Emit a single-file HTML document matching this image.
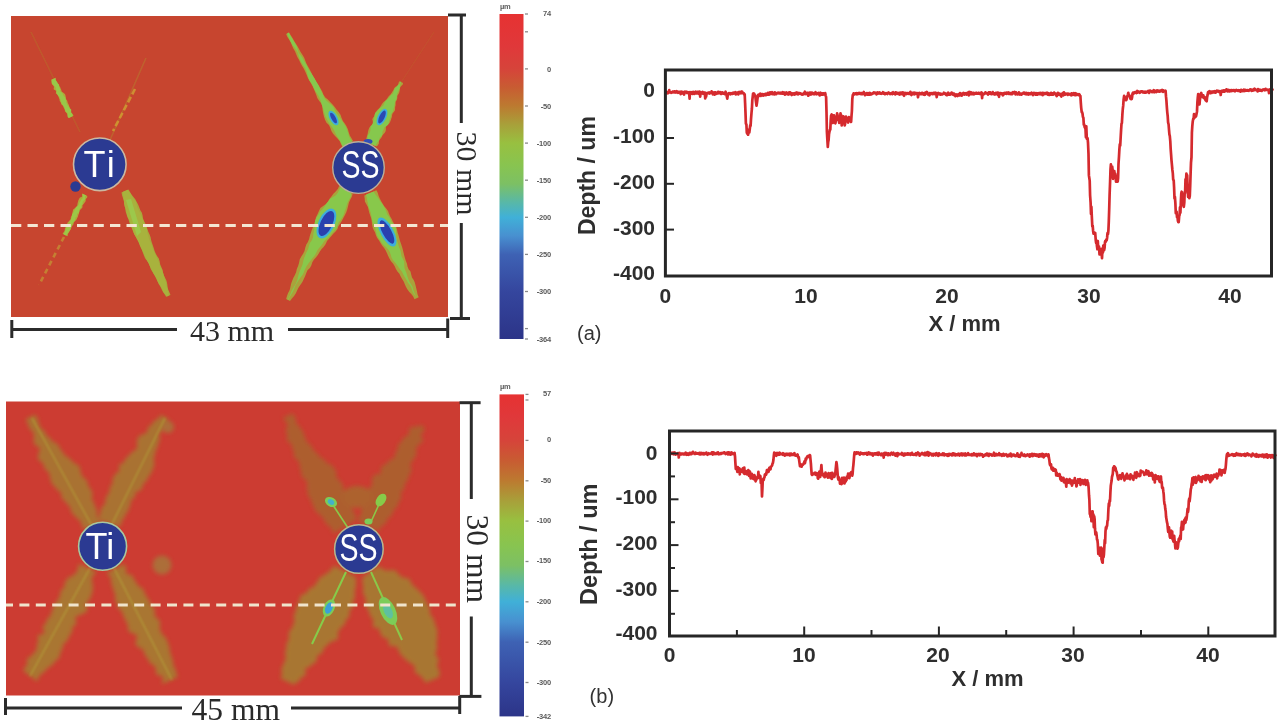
<!DOCTYPE html>
<html><head><meta charset="utf-8"><title>Profile figure</title>
<style>
html,body{margin:0;padding:0;background:#fff;width:1280px;height:728px;overflow:hidden}
svg{display:block;filter:blur(0.5px)}
.ax{font-family:"Liberation Sans",Arial,sans-serif;font-weight:bold;fill:#2e2e2e}
.cb{font-family:"Liberation Sans",Arial,sans-serif;fill:#5a5a5a;font-size:7.5px;font-weight:bold;letter-spacing:-0.2px}
.sr{font-family:"Liberation Serif","Times New Roman",serif;fill:#2a2a2a;font-size:30px}
.lab{font-family:"Liberation Sans",Arial,sans-serif;fill:#333;font-size:20px}
</style></head>
<body>
<svg width="1280" height="728" viewBox="0 0 1280 728">
<defs>
  <linearGradient id="cbA" x1="0" y1="0" x2="0" y2="1">
    <stop offset="0.000" stop-color="#e63232"/>
    <stop offset="0.100" stop-color="#e0383a"/>
    <stop offset="0.169" stop-color="#d6443a"/>
    <stop offset="0.226" stop-color="#c85c32"/>
    <stop offset="0.283" stop-color="#bc7a30"/>
    <stop offset="0.340" stop-color="#a8a03a"/>
    <stop offset="0.397" stop-color="#98c040"/>
    <stop offset="0.466" stop-color="#88c450"/>
    <stop offset="0.523" stop-color="#7cc064"/>
    <stop offset="0.580" stop-color="#58b8a8"/>
    <stop offset="0.626" stop-color="#40b0d8"/>
    <stop offset="0.683" stop-color="#4890d0"/>
    <stop offset="0.740" stop-color="#3e62b4"/>
    <stop offset="0.854" stop-color="#35469e"/>
    <stop offset="1.000" stop-color="#2c3488"/>
  </linearGradient>
  <linearGradient id="cbB" x1="0" y1="0" x2="0" y2="1">
    <stop offset="0.000" stop-color="#e63232"/>
    <stop offset="0.068" stop-color="#e0383a"/>
    <stop offset="0.143" stop-color="#d6443a"/>
    <stop offset="0.206" stop-color="#c85c32"/>
    <stop offset="0.268" stop-color="#bc7a30"/>
    <stop offset="0.331" stop-color="#a8a03a"/>
    <stop offset="0.393" stop-color="#98c040"/>
    <stop offset="0.469" stop-color="#88c450"/>
    <stop offset="0.531" stop-color="#7cc064"/>
    <stop offset="0.594" stop-color="#58b8a8"/>
    <stop offset="0.644" stop-color="#40b0d8"/>
    <stop offset="0.707" stop-color="#4890d0"/>
    <stop offset="0.769" stop-color="#3e62b4"/>
    <stop offset="0.895" stop-color="#35469e"/>
    <stop offset="1.000" stop-color="#2c3488"/>
  </linearGradient>
  <filter id="bl1" x="-20%" y="-20%" width="140%" height="140%"><feGaussianBlur stdDeviation="1"/></filter>
  <filter id="bl2" x="-20%" y="-20%" width="140%" height="140%"><feGaussianBlur stdDeviation="2"/></filter>
  <filter id="bl4" x="-30%" y="-30%" width="160%" height="160%"><feGaussianBlur stdDeviation="4"/></filter>
  <filter id="soft"><feGaussianBlur stdDeviation="0.6"/></filter>
</defs>

<!-- ============ MAP A ============ -->
<rect x="11" y="16" width="437" height="301" fill="#c7452f"/>
<g id="mapA-features" filter="url(#soft)">
<line x1="31" y1="32" x2="80" y2="132" stroke="#b8682c" stroke-width="1.6" opacity="0.55"/>
<path d="M51.3,79.8 L51.8,80.7 L51.8,81.9 L51.7,83.2 L51.9,84.3 L52.7,85.1 L53.6,85.9 L54.0,86.9 L53.7,88.2 L53.8,89.4 L54.8,90.1 L56.0,90.7 L56.1,91.8 L55.8,93.2 L56.7,94.0 L57.7,94.6 L58.1,95.7 L58.5,96.7 L58.9,97.7 L59.3,98.7 L59.6,99.8 L59.7,100.9 L60.3,101.8 L60.9,102.7 L61.1,103.8 L61.7,104.7 L62.7,105.4 L63.3,106.3 L63.6,107.4 L64.1,108.3 L64.6,109.3 L64.9,110.4 L65.2,111.4 L65.9,112.3 L66.6,113.1 L67.1,114.1 L67.8,115.0 L68.2,115.9 L68.4,117.0 L68.9,118.0 L73.5,115.8 L73.1,114.8 L72.1,114.1 L71.3,113.3 L71.2,112.1 L71.2,110.9 L70.7,110.0 L70.3,109.0 L70.1,107.9 L69.5,107.0 L69.1,106.0 L68.8,104.9 L68.4,103.9 L67.8,103.0 L67.5,102.0 L67.3,100.9 L66.6,100.0 L66.0,99.1 L65.9,97.9 L65.7,96.8 L65.5,95.7 L65.3,94.7 L64.6,93.8 L63.7,93.0 L62.6,92.3 L61.7,91.6 L61.4,90.5 L61.1,89.5 L60.6,88.5 L60.3,87.5 L59.8,86.5 L58.7,85.8 L58.0,85.0 L57.9,83.8 L57.6,82.8 L56.9,81.9 L56.3,81.0 L55.7,80.1 L55.9,78.8 L55.8,77.7 Z" fill="#b0a83a"/>
<path d="M51.5,79.7 L51.5,80.9 L51.6,82.1 L51.8,83.1 L52.4,84.1 L53.3,84.8 L53.9,85.7 L54.7,86.5 L55.5,87.3 L55.7,88.4 L55.9,89.5 L56.5,90.5 L56.6,91.6 L56.5,92.9 L56.9,93.9 L57.4,94.8 L58.1,95.7 L59.0,96.4 L59.6,97.3 L59.8,98.5 L60.3,99.4 L60.7,100.4 L60.9,101.5 L61.4,102.5 L61.9,103.4 L62.3,104.4 L62.9,105.3 L63.5,106.2 L64.1,107.1 L64.6,108.1 L64.8,109.2 L65.2,110.2 L65.5,111.3 L66.1,112.2 L67.3,112.8 L67.7,113.8 L67.4,115.1 L67.5,116.2 L67.9,117.3 L68.7,118.1 L72.5,116.3 L72.5,115.1 L72.5,113.9 L71.7,113.1 L70.8,112.3 L71.1,111.0 L71.3,109.7 L70.4,108.9 L69.5,108.2 L69.0,107.2 L68.6,106.2 L67.8,105.4 L67.1,104.5 L66.8,103.5 L66.3,102.5 L66.1,101.4 L66.3,100.2 L65.6,99.3 L65.3,98.2 L65.1,97.1 L64.2,96.4 L63.5,95.5 L63.0,94.6 L62.5,93.6 L62.0,92.6 L60.9,91.9 L60.1,91.2 L60.1,89.9 L60.2,88.7 L59.6,87.8 L59.1,86.8 L59.2,85.6 L59.0,84.5 L58.1,83.7 L57.4,82.9 L57.0,81.9 L56.3,81.0 L55.7,80.1 L55.3,79.1 L54.8,78.2 Z" fill="#98c848"/>
<line x1="400" y1="84" x2="434" y2="32" stroke="#b8782e" stroke-width="1.2" opacity="0.2"/>
<line x1="146" y1="58" x2="110" y2="140" stroke="#b8782e" stroke-width="1.6" opacity="0.55"/>
<line x1="135" y1="89" x2="113" y2="131" stroke="#d0a032" stroke-width="2.6" stroke-dasharray="6 3" opacity="0.8"/>
<path d="M82.1,193.5 L81.9,194.7 L82.3,196.2 L81.5,197.1 L80.0,197.6 L79.3,198.6 L78.8,199.6 L78.3,200.6 L78.0,201.8 L77.7,202.9 L77.4,204.0 L77.4,205.3 L76.8,206.3 L75.9,207.1 L75.2,208.0 L74.1,208.8 L73.2,209.6 L72.8,210.7 L72.6,211.9 L72.3,213.0 L72.3,214.3 L72.0,215.4 L71.2,216.3 L70.8,217.4 L70.9,218.7 L70.5,219.8 L69.5,220.6 L68.7,221.5 L67.8,222.3 L67.3,223.3 L67.0,224.4 L66.4,225.4 L65.9,226.5 L65.4,227.5 L64.9,228.6 L64.8,229.8 L64.5,230.9 L63.9,231.9 L63.2,232.8 L62.6,233.8 L67.6,236.3 L67.8,235.1 L67.9,233.9 L68.5,232.9 L69.2,232.0 L69.7,230.9 L70.2,229.9 L70.8,228.9 L71.2,227.9 L71.6,226.7 L72.2,225.8 L73.2,225.0 L73.5,223.9 L73.7,222.7 L74.4,221.8 L75.2,220.9 L76.2,220.1 L76.8,219.1 L77.2,218.0 L77.8,217.1 L78.1,215.9 L78.4,214.8 L79.0,213.8 L79.1,212.6 L79.0,211.2 L79.6,210.2 L80.6,209.4 L81.5,208.6 L82.3,207.8 L82.5,206.6 L82.5,205.3 L83.2,204.4 L84.0,203.5 L84.7,202.5 L85.5,201.6 L85.7,200.5 L85.7,199.2 L86.5,198.3 L87.2,197.4 L87.3,196.1 Z" fill="#b0a83a"/>
<path d="M83.0,194.0 L82.7,195.1 L82.7,196.4 L82.7,197.7 L82.2,198.7 L81.2,199.5 L80.7,200.5 L80.2,201.6 L79.4,202.5 L79.1,203.6 L78.7,204.7 L78.0,205.6 L77.2,206.5 L76.1,207.2 L75.5,208.2 L75.2,209.3 L74.5,210.2 L74.0,211.3 L73.5,212.3 L72.9,213.3 L72.1,214.2 L71.8,215.3 L72.0,216.7 L71.6,217.8 L70.8,218.7 L70.7,219.9 L70.3,221.0 L69.4,221.8 L69.6,223.2 L69.7,224.5 L68.6,225.2 L67.1,225.8 L66.2,226.6 L66.2,227.9 L66.0,229.1 L65.5,230.1 L65.0,231.1 L64.7,232.3 L64.2,233.3 L63.5,234.2 L66.3,235.7 L66.9,234.7 L67.4,233.6 L68.1,232.7 L68.8,231.8 L69.4,230.8 L70.3,229.9 L70.6,228.8 L70.9,227.7 L71.4,226.7 L72.0,225.7 L72.2,224.5 L72.5,223.4 L73.3,222.5 L74.1,221.6 L74.8,220.6 L75.2,219.6 L75.3,218.3 L75.7,217.3 L76.7,216.5 L77.0,215.4 L77.0,214.1 L77.8,213.2 L79.0,212.5 L79.5,211.5 L79.5,210.2 L79.7,209.0 L80.4,208.1 L81.3,207.3 L81.4,206.0 L81.8,204.9 L82.5,204.0 L82.7,202.8 L82.8,201.6 L83.7,200.8 L84.7,200.0 L85.2,199.0 L85.1,197.6 L85.3,196.4 L86.3,195.6 Z" fill="#9cc846"/>
<line x1="64" y1="237" x2="39" y2="285" stroke="#c48e32" stroke-width="2.6" stroke-dasharray="5 4" opacity="0.8"/>
<path d="M121.5,192.5 L122.1,195.4 L123.0,198.2 L123.8,201.0 L124.5,203.9 L125.0,206.7 L125.3,209.4 L125.8,212.3 L127.2,214.9 L128.2,217.6 L128.8,220.5 L129.6,223.3 L130.8,226.0 L132.1,228.8 L133.1,231.6 L134.2,234.3 L135.8,236.8 L137.2,239.4 L138.7,241.9 L140.0,244.6 L141.0,247.3 L141.9,250.1 L143.0,252.9 L144.0,255.8 L145.2,258.4 L147.0,260.8 L148.8,263.2 L149.8,265.9 L150.6,268.8 L152.0,271.3 L153.6,273.7 L155.0,276.2 L156.4,278.7 L157.6,281.4 L158.7,284.1 L160.3,286.6 L161.6,289.2 L162.9,291.8 L164.6,294.3 L166.1,296.8 L170.5,294.9 L169.4,292.3 L168.2,289.6 L167.6,286.7 L167.2,283.7 L166.5,280.8 L165.3,278.2 L163.9,275.6 L163.0,272.9 L162.5,269.8 L161.3,267.1 L160.2,264.4 L159.7,261.4 L158.8,258.6 L157.2,256.2 L155.7,253.6 L154.6,251.0 L153.8,248.2 L152.9,245.6 L152.0,242.9 L151.1,240.1 L150.6,237.2 L149.6,234.4 L148.3,231.8 L147.4,229.1 L146.3,226.3 L145.4,223.7 L144.2,221.2 L143.0,218.6 L142.6,215.6 L141.9,212.8 L140.3,210.3 L139.3,207.6 L138.2,204.8 L136.7,202.0 L135.3,199.2 L133.5,196.9 L131.4,194.6 L130.0,192.0 L128.5,189.5 Z" fill="#a9a63a"/>
<path d="M122.6,192.0 L123.2,194.9 L123.6,197.9 L124.0,200.9 L124.1,204.1 L124.7,206.8 L125.9,209.2 L126.5,212.0 L126.7,215.0 L127.7,217.8 L129.3,220.3 L130.2,223.1 L131.1,225.9 L132.3,228.7 L133.3,231.5 L134.4,234.2 L135.7,236.8 L137.3,239.4 L138.5,242.0 L139.5,244.7 L140.7,247.4 L142.1,250.0 L143.5,252.7 L144.7,255.5 L145.9,258.1 L147.2,260.7 L148.5,263.3 L149.8,265.9 L151.2,268.5 L152.4,271.1 L153.7,273.7 L155.2,276.1 L156.5,278.7 L157.7,281.4 L159.1,284.0 L160.8,286.4 L162.2,289.0 L163.1,291.7 L164.9,294.1 L166.9,296.5 L168.9,295.6 L168.3,292.7 L167.7,289.8 L166.8,287.0 L166.2,284.1 L165.6,281.3 L164.7,278.5 L163.9,275.6 L163.1,272.8 L162.1,270.0 L160.6,267.4 L159.6,264.7 L158.8,261.8 L157.5,259.2 L156.3,256.6 L155.1,253.9 L153.8,251.3 L152.8,248.7 L152.0,246.0 L151.0,243.3 L149.7,240.7 L148.8,237.9 L148.0,235.0 L147.2,232.2 L147.0,229.2 L146.3,226.3 L144.7,223.9 L143.7,221.4 L142.7,218.7 L141.4,216.1 L140.3,213.4 L139.0,210.7 L137.6,208.1 L136.8,205.3 L136.2,202.2 L134.4,199.6 L132.7,197.2 L131.3,194.6 L129.5,192.2 L127.7,189.8 Z" fill="#a8b23e"/>
<path d="M126,200 L131,199 L141,232 L137,236 Z" fill="#9cc84c"/>
<path d="M286.1,34.0 L287.4,37.0 L289.2,39.7 L290.9,42.4 L292.0,45.5 L293.3,48.5 L295.0,51.2 L296.2,54.2 L297.5,57.2 L299.1,60.0 L300.5,62.9 L302.0,65.8 L303.7,68.6 L305.2,71.4 L306.5,74.4 L307.7,77.5 L309.2,80.4 L310.9,83.1 L312.5,86.0 L313.8,88.9 L315.1,91.9 L316.3,94.9 L317.3,98.1 L319.1,100.8 L321.3,103.4 L322.3,106.5 L322.6,110.0 L323.2,113.4 L324.0,116.7 L325.0,119.8 L326.5,122.7 L328.9,125.1 L330.4,127.9 L331.4,131.1 L333.1,133.8 L335.3,136.3 L337.7,138.7 L339.8,141.2 L341.1,144.2 L342.6,147.1 L353.1,141.1 L351.5,138.3 L349.8,135.5 L348.8,132.4 L347.9,129.2 L346.5,126.2 L344.8,123.5 L342.9,120.9 L341.6,117.9 L340.5,114.8 L338.6,112.1 L336.5,109.6 L334.7,106.9 L332.6,104.4 L330.2,102.0 L327.9,99.6 L325.3,97.4 L323.5,94.7 L322.3,91.7 L320.7,88.8 L318.7,86.2 L316.9,83.6 L315.7,80.6 L314.2,77.7 L312.4,75.0 L311.0,72.1 L309.6,69.2 L308.0,66.4 L306.4,63.6 L305.2,60.6 L304.1,57.5 L302.4,54.7 L300.6,52.0 L299.0,49.1 L297.5,46.3 L295.7,43.5 L294.0,40.8 L292.5,38.0 L290.7,35.2 L289.1,32.4 Z" fill="#aaa23a"/>
<path d="M287.2,33.4 L288.3,36.5 L289.6,39.4 L291.0,42.4 L292.6,45.2 L294.8,47.7 L296.6,50.4 L298.0,53.3 L298.9,56.5 L299.9,59.6 L301.4,62.5 L303.2,65.2 L305.1,67.9 L306.4,70.8 L307.3,74.0 L308.2,77.2 L309.4,80.3 L311.2,83.0 L312.8,85.8 L314.2,88.7 L315.7,91.6 L317.5,94.3 L319.1,97.1 L320.4,100.1 L321.4,103.2 L322.4,106.4 L323.4,109.6 L324.2,112.8 L325.1,116.0 L326.7,118.9 L328.2,121.7 L329.9,124.5 L332.0,127.0 L333.7,129.8 L335.1,132.7 L336.6,135.6 L338.4,138.3 L340.2,141.0 L341.6,143.9 L343.0,146.9 L352.2,141.6 L350.4,138.9 L349.0,136.0 L348.1,132.8 L347.0,129.7 L345.8,126.7 L344.1,123.9 L342.3,121.2 L340.5,118.5 L338.7,115.8 L336.7,113.2 L335.1,110.4 L333.7,107.5 L331.6,105.0 L328.8,102.8 L326.3,100.5 L324.4,97.9 L323.1,94.9 L321.6,92.1 L320.2,89.1 L319.1,86.0 L317.4,83.3 L315.6,80.6 L314.0,77.8 L312.4,75.0 L310.6,72.3 L308.7,69.7 L307.4,66.7 L305.8,63.9 L304.1,61.1 L302.7,58.2 L300.8,55.6 L298.8,52.9 L297.7,49.8 L296.8,46.7 L295.3,43.8 L293.6,41.0 L292.0,38.2 L290.3,35.5 L288.7,32.6 Z" fill="#86c84e"/>
<path d="M399.4,81.2 L398.6,82.8 L398.1,84.5 L397.2,86.0 L395.2,87.0 L394.0,88.4 L393.5,90.1 L392.5,91.6 L391.6,93.0 L390.5,94.4 L389.2,95.7 L388.1,97.1 L387.2,98.6 L386.0,99.9 L384.5,101.2 L383.1,102.6 L382.0,104.1 L381.1,105.6 L380.2,107.1 L379.0,108.5 L377.6,109.8 L376.4,111.2 L375.3,112.7 L374.7,114.5 L374.3,116.3 L373.0,117.7 L372.3,119.3 L372.8,121.5 L372.8,123.4 L371.7,124.9 L370.3,126.2 L369.3,127.8 L368.6,129.5 L368.1,131.2 L367.8,133.0 L367.4,134.8 L366.9,136.5 L366.4,138.2 L366.3,140.0 L365.8,141.8 L376.8,146.5 L378.0,145.1 L378.9,143.5 L378.9,141.6 L379.4,139.9 L380.7,138.6 L381.8,137.1 L382.4,135.4 L383.6,134.1 L384.8,132.8 L385.6,131.3 L385.9,129.5 L385.8,127.5 L386.4,125.8 L387.9,124.6 L389.4,123.3 L390.2,121.8 L390.8,120.2 L391.3,118.6 L391.9,116.9 L392.1,115.1 L392.6,113.4 L393.8,112.0 L394.9,110.5 L395.1,108.8 L395.1,106.9 L395.6,105.2 L395.6,103.2 L395.8,101.3 L396.9,99.9 L397.3,98.1 L397.3,96.0 L398.2,94.5 L399.1,92.9 L399.6,91.2 L399.9,89.3 L400.1,87.5 L401.2,86.1 L402.6,84.8 L403.1,83.0 Z" fill="#aaa23a"/>
<path d="M400.2,81.6 L400.0,83.5 L398.6,84.8 L397.1,86.0 L396.0,87.4 L394.9,88.8 L394.0,90.3 L393.5,92.1 L392.8,93.7 L391.3,94.8 L390.1,96.2 L389.2,97.7 L387.9,99.0 L386.3,100.2 L385.1,101.6 L384.3,103.2 L383.6,104.9 L382.4,106.3 L380.7,107.4 L379.4,108.7 L378.2,110.1 L376.9,111.4 L375.5,112.8 L374.8,114.6 L374.4,116.4 L374.1,118.2 L373.7,120.0 L373.2,121.7 L372.8,123.4 L371.9,125.0 L370.8,126.5 L370.5,128.4 L370.4,130.3 L370.0,132.1 L369.2,133.6 L368.1,135.1 L367.5,136.7 L367.6,138.7 L367.3,140.5 L366.4,142.0 L375.5,145.9 L376.2,144.3 L377.2,142.8 L378.3,141.4 L379.2,139.8 L379.7,138.1 L380.8,136.7 L382.1,135.3 L382.4,133.5 L382.5,131.8 L383.3,130.2 L383.9,128.6 L384.7,127.0 L386.6,125.9 L388.1,124.7 L388.7,123.0 L389.0,121.2 L389.7,119.7 L390.3,118.1 L390.7,116.3 L391.0,114.5 L391.9,113.0 L392.9,111.5 L393.4,109.8 L393.8,108.1 L394.3,106.5 L394.6,104.7 L394.9,102.8 L395.3,101.0 L396.0,99.4 L396.7,97.7 L396.9,95.8 L397.1,93.9 L397.9,92.3 L398.7,90.7 L399.4,89.1 L399.9,87.4 L400.2,85.5 L400.4,83.7 L401.1,82.0 Z" fill="#86c84e"/>
<path d="M339.2,186.1 L337.8,189.0 L335.7,191.5 L333.4,193.8 L331.4,196.4 L329.6,198.8 L328.0,201.4 L325.9,203.9 L323.1,205.9 L320.4,208.0 L318.9,210.9 L317.6,214.0 L316.0,217.3 L315.1,220.8 L314.3,224.0 L313.0,226.9 L311.8,229.9 L310.8,233.0 L309.8,236.0 L309.1,239.1 L307.9,241.9 L306.3,244.6 L305.3,247.6 L304.5,250.9 L303.1,253.8 L301.3,256.4 L299.7,259.5 L299.0,263.0 L298.1,266.1 L296.8,269.0 L296.1,272.2 L294.9,275.1 L293.3,277.9 L292.2,280.8 L291.1,283.7 L290.4,286.9 L289.7,290.1 L288.1,292.9 L287.0,295.9 L286.1,299.0 L290.0,301.0 L291.9,298.4 L294.1,295.9 L295.9,293.3 L297.2,290.3 L298.6,287.5 L300.5,284.8 L302.4,282.0 L303.8,279.1 L305.1,276.2 L306.2,273.2 L307.5,270.3 L309.9,267.9 L311.4,265.3 L312.2,262.4 L313.8,259.7 L316.1,257.3 L318.0,254.7 L319.6,251.9 L321.4,249.2 L323.8,246.7 L325.7,244.0 L327.0,241.1 L329.2,238.6 L331.4,236.1 L333.5,233.6 L335.8,231.2 L337.5,228.9 L338.4,226.3 L340.0,223.7 L341.8,221.1 L343.2,218.2 L344.7,215.4 L346.2,212.6 L347.3,209.3 L348.1,205.9 L348.9,202.7 L350.2,199.7 L351.7,196.9 L352.7,193.8 Z" fill="#aaa23a"/>
<path d="M340.7,187.0 L339.2,189.8 L337.8,192.7 L335.8,195.2 L332.8,197.2 L330.0,199.1 L328.2,201.6 L326.2,204.1 L324.4,206.7 L322.4,209.2 L320.2,211.6 L318.6,214.6 L316.6,217.6 L315.1,220.8 L314.8,224.3 L314.6,227.7 L313.8,230.9 L313.3,234.2 L313.0,237.6 L311.7,240.5 L309.9,243.0 L308.9,246.0 L308.0,249.2 L306.6,252.1 L305.3,255.0 L304.1,258.0 L303.2,261.2 L302.5,264.5 L301.3,267.5 L300.0,270.4 L298.9,273.4 L298.1,276.6 L297.4,279.7 L296.3,282.7 L294.8,285.5 L293.1,288.3 L291.6,291.1 L290.4,294.1 L289.2,297.0 L287.5,299.7 L288.1,300.0 L289.7,297.3 L291.2,294.4 L292.9,291.7 L294.2,288.8 L295.3,285.8 L296.9,283.0 L298.6,280.3 L300.5,277.6 L302.5,275.0 L303.9,272.2 L305.0,269.2 L306.5,266.3 L308.2,263.7 L310.1,261.3 L312.0,258.7 L314.2,256.2 L316.0,253.6 L317.3,250.6 L319.1,248.0 L321.4,245.5 L323.2,242.7 L325.2,240.1 L327.9,237.9 L330.1,235.5 L332.1,232.9 L334.4,230.5 L336.4,228.2 L337.3,225.7 L338.5,222.8 L340.4,220.2 L342.2,217.6 L343.6,214.7 L344.6,211.6 L345.7,208.4 L346.8,205.1 L347.8,202.1 L349.4,199.3 L350.7,196.4 L351.3,193.1 Z" fill="#88c84c"/>
<path d="M364.3,195.4 L364.7,198.4 L364.9,201.5 L366.2,204.1 L367.8,206.7 L368.5,209.6 L369.2,212.5 L370.2,215.4 L371.2,218.2 L371.7,221.1 L372.0,224.2 L372.6,227.2 L373.7,229.9 L375.1,232.6 L376.0,235.4 L377.2,238.0 L379.1,240.4 L380.5,243.0 L382.1,245.5 L384.1,247.9 L385.7,250.4 L387.0,253.2 L388.2,255.9 L389.4,258.6 L391.0,261.2 L393.0,263.5 L394.6,266.0 L395.8,268.8 L397.4,271.4 L399.4,273.8 L400.7,276.4 L402.1,279.1 L403.7,281.6 L404.8,284.3 L406.0,287.0 L407.5,289.6 L409.3,292.0 L411.5,294.2 L413.2,296.6 L414.5,299.2 L418.7,297.2 L417.6,294.4 L417.0,291.4 L416.3,288.4 L415.6,285.5 L414.8,282.6 L413.7,279.9 L412.0,277.4 L411.2,274.5 L410.5,271.6 L408.6,269.2 L407.5,266.5 L407.0,263.7 L405.9,261.0 L405.0,258.2 L404.2,255.3 L403.5,252.4 L402.8,249.4 L402.0,246.7 L401.1,243.9 L400.1,241.2 L399.3,238.3 L398.6,235.4 L397.6,232.6 L397.0,229.7 L396.2,226.7 L394.4,224.3 L392.9,221.7 L391.7,219.0 L390.2,216.4 L389.0,213.8 L388.0,211.0 L386.2,208.5 L384.3,206.2 L382.7,203.7 L381.2,201.2 L379.8,198.6 L378.6,195.8 L377.8,193.0 L376.4,190.3 Z" fill="#aaa23a"/>
<path d="M366.1,194.6 L366.7,197.5 L367.2,200.6 L367.9,203.4 L368.4,206.4 L369.4,209.2 L370.5,212.0 L371.2,214.9 L371.7,217.9 L372.2,221.0 L373.3,223.7 L374.7,226.3 L375.5,229.1 L376.2,232.1 L376.9,235.0 L378.3,237.5 L379.9,240.1 L381.5,242.6 L383.5,245.0 L385.9,247.1 L388.2,249.4 L389.8,251.9 L390.7,254.8 L391.6,257.7 L393.1,260.2 L395.1,262.5 L397.0,265.0 L398.7,267.5 L400.6,269.9 L402.3,272.3 L403.5,275.1 L405.0,277.6 L406.6,280.1 L408.0,282.7 L409.8,285.1 L411.3,287.6 L412.2,290.5 L413.4,293.2 L415.2,295.6 L417.0,298.0 L417.0,298.0 L415.7,295.4 L414.3,292.8 L413.3,289.9 L412.6,287.0 L411.2,284.4 L409.6,281.9 L408.4,279.2 L407.4,276.4 L406.6,273.5 L405.5,270.8 L404.5,268.0 L404.3,264.9 L404.2,261.8 L403.0,259.1 L401.6,256.4 L401.1,253.4 L400.5,250.5 L399.3,247.8 L398.4,245.1 L397.6,242.2 L396.8,239.4 L396.3,236.4 L396.3,233.1 L396.1,230.0 L395.5,227.1 L393.5,224.6 L391.6,222.3 L390.5,219.5 L389.2,216.9 L387.4,214.4 L386.3,211.7 L385.2,209.0 L383.8,206.4 L382.3,203.9 L380.4,201.5 L378.8,199.0 L377.1,196.5 L375.1,194.1 L373.7,191.5 Z" fill="#88c84c"/>
<ellipse cx="333.5" cy="118" rx="3.8" ry="8" transform="rotate(-29 333.5 118)" fill="#3eaedc"/>
<ellipse cx="333.5" cy="118" rx="2.2" ry="6" transform="rotate(-29 333.5 118)" fill="#2c48b4"/>
<ellipse cx="382" cy="117" rx="4.2" ry="9" transform="rotate(26 382 117)" fill="#3eaedc"/>
<ellipse cx="382" cy="117" rx="2.6" ry="7" transform="rotate(26 382 117)" fill="#2c48b4"/>
<ellipse cx="326.4" cy="223.5" rx="8" ry="16" transform="rotate(25 326.4 223.5)" fill="#3eaedc"/>
<ellipse cx="326.4" cy="223.5" rx="6" ry="13.5" transform="rotate(25 326.4 223.5)" fill="#2a3fae"/>
<ellipse cx="387" cy="232" rx="6.5" ry="16" transform="rotate(-28 387 232)" fill="#3eaedc"/>
<ellipse cx="387" cy="232" rx="4.5" ry="13" transform="rotate(-28 387 232)" fill="#2a3fae"/>
<ellipse cx="368" cy="141.5" rx="4.5" ry="2.5" fill="#3050b8"/>

</g>
<line x1="11" y1="225.6" x2="448" y2="225.6" stroke="#f4e6d2" stroke-width="3" stroke-dasharray="10.3 6.2"/>
<circle cx="75.5" cy="186.5" r="5.2" fill="#2b3a92"/>
<circle cx="99.8" cy="164.3" r="26.3" fill="#2b3a92" stroke="#cbb9a2" stroke-width="1.6"/>
<text x="83.6" y="176.5" font-family="Liberation Sans, Arial, sans-serif" font-size="36" letter-spacing="2.5" fill="#fff">Ti</text>
<circle cx="358.5" cy="167.6" r="25.8" fill="#2b3a92" stroke="#b9b09a" stroke-width="1.4"/>
<text x="360.5" y="178" text-anchor="middle" font-family="Liberation Sans, Arial, sans-serif" font-size="38" fill="#fff" transform="translate(360.5 0) scale(0.75 1) translate(-360.5 0)">SS</text>

<!-- scale bars A -->
<g stroke="#2b2b2b" stroke-width="3" fill="none">
  <line x1="11.8" y1="320" x2="11.8" y2="338"/>
  <line x1="11.8" y1="329.5" x2="177" y2="329.5"/>
  <line x1="288" y1="329.5" x2="447.7" y2="329.5"/>
  <line x1="447.7" y1="318.5" x2="447.7" y2="338"/>
  <line x1="448" y1="15" x2="466" y2="15"/>
  <line x1="461.3" y1="15" x2="461.3" y2="123"/>
  <line x1="461.3" y1="223" x2="461.3" y2="318.5"/>
  <line x1="450" y1="318.5" x2="470" y2="318.5"/>
</g>
<text class="sr" x="190" y="341">43 mm</text>
<text class="sr" transform="translate(456.5 131.5) rotate(90)" x="0" y="0">30 mm</text>

<!-- colorbar A -->
<g stroke="#8a8a8a" stroke-width="1.3"><line x1="525" y1="14.0" x2="528" y2="14.0"/><line x1="525" y1="31.8" x2="528" y2="31.8"/><line x1="525" y1="68.9" x2="528" y2="68.9"/><line x1="525" y1="106.0" x2="528" y2="106.0"/><line x1="525" y1="143.1" x2="528" y2="143.1"/><line x1="525" y1="180.2" x2="528" y2="180.2"/><line x1="525" y1="217.3" x2="528" y2="217.3"/><line x1="525" y1="254.4" x2="528" y2="254.4"/><line x1="525" y1="291.5" x2="528" y2="291.5"/><line x1="525" y1="328.6" x2="528" y2="328.6"/><line x1="525" y1="339.0" x2="528" y2="339.0"/><line x1="525.5" y1="394.4" x2="528.5" y2="394.4"/><line x1="525.5" y1="400.0" x2="528.5" y2="400.0"/><line x1="525.5" y1="440.4" x2="528.5" y2="440.4"/><line x1="525.5" y1="480.8" x2="528.5" y2="480.8"/><line x1="525.5" y1="521.1" x2="528.5" y2="521.1"/><line x1="525.5" y1="561.5" x2="528.5" y2="561.5"/><line x1="525.5" y1="601.8" x2="528.5" y2="601.8"/><line x1="525.5" y1="642.2" x2="528.5" y2="642.2"/><line x1="525.5" y1="682.5" x2="528.5" y2="682.5"/><line x1="525.5" y1="716.4" x2="528.5" y2="716.4"/></g>

<rect x="499.5" y="14" width="24" height="325" fill="url(#cbA)"/>
<text class="cb" x="500" y="9">µm</text>
<g class="cb" text-anchor="end">
  <text x="551" y="16">74</text>
  <text x="551" y="72">0</text>
  <text x="551" y="109">-50</text>
  <text x="551" y="146">-100</text>
  <text x="551" y="183">-150</text>
  <text x="551" y="220">-200</text>
  <text x="551" y="257">-250</text>
  <text x="551" y="294">-300</text>
  <text x="551" y="342">-364</text>
</g>

<!-- ============ CHART A ============ -->
<path d="M665.4,90.8 L665.8,93.5 L666.2,91.8 L666.7,92.4 L667.1,92.3 L667.5,92.2 L667.9,93.3 L668.4,92.2 L668.8,92.6 L669.2,90.1 L669.6,92.0 L670.1,92.3 L670.5,92.3 L670.9,92.5 L671.3,92.8 L671.8,92.4 L672.2,91.9 L672.6,92.3 L673.0,91.6 L673.5,92.3 L673.9,92.2 L674.3,91.3 L674.7,91.9 L675.1,92.5 L675.6,92.3 L676.0,91.9 L676.4,91.1 L676.8,92.4 L677.3,92.4 L677.7,91.7 L678.1,92.8 L678.5,92.5 L679.0,91.8 L679.4,91.9 L679.8,92.3 L680.2,91.9 L680.7,94.1 L681.1,91.7 L681.5,92.9 L681.9,93.4 L682.4,92.2 L682.8,91.9 L683.2,92.7 L683.6,93.1 L684.1,94.5 L684.5,92.4 L684.9,91.6 L685.3,92.0 L685.7,92.3 L686.2,91.8 L686.6,92.6 L687.0,93.0 L687.4,92.1 L687.9,92.1 L688.3,92.6 L688.7,93.0 L689.1,92.4 L689.6,98.6 L690.0,92.1 L690.4,92.2 L690.8,93.6 L691.3,92.5 L691.7,93.2 L692.1,92.1 L692.5,93.9 L693.0,93.2 L693.4,92.2 L693.8,91.9 L694.2,94.0 L694.6,93.0 L695.1,92.5 L695.5,93.1 L695.9,91.7 L696.3,93.4 L696.8,92.5 L697.2,93.4 L697.6,91.8 L698.0,92.8 L698.5,93.0 L698.9,93.8 L699.3,91.7 L699.7,92.3 L700.2,96.6 L700.6,92.1 L701.0,92.6 L701.4,93.2 L701.9,93.3 L702.3,93.4 L702.7,92.0 L703.1,93.8 L703.6,93.3 L704.0,93.1 L704.4,92.8 L704.8,92.5 L705.2,98.5 L705.7,96.5 L706.1,96.6 L706.5,94.3 L706.9,93.3 L707.4,92.8 L707.8,93.1 L708.2,92.8 L708.6,93.1 L709.1,92.4 L709.5,93.5 L709.9,92.9 L710.3,93.1 L710.8,92.7 L711.2,92.9 L711.6,91.4 L712.0,92.1 L712.5,92.1 L712.9,94.4 L713.3,93.3 L713.7,93.5 L714.1,92.7 L714.6,94.6 L715.0,92.3 L715.4,92.4 L715.8,94.0 L716.3,93.8 L716.7,93.7 L717.1,93.1 L717.5,92.7 L718.0,91.8 L718.4,93.3 L718.8,92.7 L719.2,93.1 L719.7,92.1 L720.1,92.7 L720.5,92.3 L720.9,94.0 L721.4,93.4 L721.8,93.8 L722.2,92.3 L722.6,92.9 L723.1,93.5 L723.5,93.6 L723.9,93.0 L724.3,93.8 L724.7,94.0 L725.2,93.0 L725.6,91.7 L726.0,93.5 L726.4,94.8 L726.9,96.9 L727.3,98.6 L727.7,95.5 L728.1,93.8 L728.6,93.4 L729.0,93.1 L729.4,93.3 L729.8,93.2 L730.3,94.3 L730.7,93.6 L731.1,93.2 L731.5,93.8 L732.0,93.6 L732.4,93.8 L732.8,93.5 L733.2,92.7 L733.6,93.5 L734.1,93.3 L734.5,92.7 L734.9,92.8 L735.3,92.1 L735.8,94.5 L736.2,92.6 L736.6,93.4 L737.0,93.0 L737.5,92.6 L737.9,92.4 L738.3,94.4 L738.7,93.0 L739.2,92.0 L739.6,93.2 L740.0,93.1 L740.4,92.5 L740.9,93.3 L741.3,91.6 L741.7,92.3 L742.1,91.6 L742.5,93.0 L743.0,93.2 L743.4,93.1 L743.8,93.2 L744.2,94.5 L744.7,94.3 L745.1,103.0 L745.5,112.6 L745.9,123.7 L746.4,124.3 L746.8,132.5 L747.2,133.6 L747.6,133.3 L748.1,134.7 L748.5,131.7 L748.9,129.5 L749.3,132.5 L749.8,128.7 L750.2,125.4 L750.6,125.8 L751.0,119.1 L751.5,113.0 L751.9,108.7 L752.3,100.4 L752.7,97.0 L753.1,93.5 L753.6,94.1 L754.0,93.5 L754.4,94.5 L754.8,95.2 L755.3,95.6 L755.7,99.7 L756.1,102.6 L756.5,105.7 L757.0,102.6 L757.4,99.3 L757.8,96.5 L758.2,94.9 L758.7,96.2 L759.1,94.8 L759.5,95.5 L759.9,93.8 L760.4,93.7 L760.8,96.0 L761.2,94.4 L761.6,94.6 L762.0,95.2 L762.5,94.1 L762.9,94.7 L763.3,95.6 L763.7,94.5 L764.2,94.4 L764.6,94.2 L765.0,95.1 L765.4,93.8 L765.9,93.7 L766.3,95.0 L766.7,94.6 L767.1,94.2 L767.6,94.5 L768.0,92.9 L768.4,93.9 L768.8,94.7 L769.3,94.5 L769.7,94.0 L770.1,92.4 L770.5,94.0 L771.0,93.8 L771.4,93.5 L771.8,93.8 L772.2,92.2 L772.6,94.1 L773.1,93.2 L773.5,93.6 L773.9,93.3 L774.3,94.4 L774.8,92.4 L775.2,93.7 L775.6,93.5 L776.0,94.2 L776.5,94.0 L776.9,93.1 L777.3,92.8 L777.7,92.9 L778.2,92.6 L778.6,92.9 L779.0,93.4 L779.4,92.8 L779.9,93.0 L780.3,93.5 L780.7,92.9 L781.1,92.6 L781.5,93.2 L782.0,93.6 L782.4,92.9 L782.8,92.2 L783.2,93.6 L783.7,93.5 L784.1,93.5 L784.5,92.6 L784.9,94.7 L785.4,93.2 L785.8,92.7 L786.2,94.0 L786.6,92.5 L787.1,93.1 L787.5,93.8 L787.9,93.3 L788.3,94.5 L788.8,93.9 L789.2,92.3 L789.6,94.1 L790.0,92.3 L790.5,93.5 L790.9,92.8 L791.3,93.5 L791.7,95.0 L792.1,93.9 L792.6,93.4 L793.0,94.3 L793.4,94.4 L793.8,93.3 L794.3,94.0 L794.7,94.7 L795.1,94.0 L795.5,93.0 L796.0,93.9 L796.4,92.9 L796.8,92.5 L797.2,93.5 L797.7,94.3 L798.1,94.4 L798.5,93.6 L798.9,93.0 L799.4,93.4 L799.8,93.2 L800.2,93.9 L800.6,93.4 L801.0,93.9 L801.5,93.8 L801.9,94.5 L802.3,94.7 L802.7,93.9 L803.2,94.4 L803.6,94.3 L804.0,93.2 L804.4,93.7 L804.9,91.7 L805.3,93.0 L805.7,94.1 L806.1,93.1 L806.6,93.4 L807.0,94.1 L807.4,92.9 L807.8,94.2 L808.3,95.7 L808.7,93.1 L809.1,94.1 L809.5,92.7 L809.9,94.1 L810.4,94.5 L810.8,92.6 L811.2,94.4 L811.6,93.6 L812.1,92.7 L812.5,93.6 L812.9,93.8 L813.3,93.6 L813.8,93.2 L814.2,94.3 L814.6,93.3 L815.0,93.3 L815.5,92.2 L815.9,94.0 L816.3,94.4 L816.7,93.3 L817.2,94.0 L817.6,93.6 L818.0,93.7 L818.4,93.0 L818.9,94.2 L819.3,93.8 L819.7,95.5 L820.1,94.4 L820.5,92.7 L821.0,94.3 L821.4,94.3 L821.8,94.6 L822.2,93.4 L822.7,93.7 L823.1,94.6 L823.5,93.4 L823.9,93.6 L824.4,93.3 L824.8,94.3 L825.2,93.1 L825.6,95.3 L826.1,97.1 L826.5,111.7 L826.9,131.7 L827.3,138.7 L827.8,147.0 L828.2,142.1 L828.6,140.0 L829.0,134.3 L829.4,132.0 L829.9,129.9 L830.3,129.6 L830.7,120.6 L831.1,115.5 L831.6,114.5 L832.0,116.3 L832.4,120.6 L832.8,123.0 L833.3,121.8 L833.7,115.4 L834.1,115.4 L834.5,117.8 L835.0,122.5 L835.4,123.3 L835.8,121.0 L836.2,120.4 L836.7,119.9 L837.1,113.4 L837.5,114.9 L837.9,117.3 L838.4,119.2 L838.8,120.1 L839.2,122.9 L839.6,119.8 L840.0,120.0 L840.5,113.3 L840.9,116.1 L841.3,115.3 L841.7,125.5 L842.2,121.1 L842.6,118.9 L843.0,119.6 L843.4,116.4 L843.9,118.1 L844.3,120.7 L844.7,125.3 L845.1,123.8 L845.6,119.3 L846.0,116.7 L846.4,117.9 L846.8,119.3 L847.3,120.5 L847.7,120.1 L848.1,122.6 L848.5,121.4 L848.9,117.1 L849.4,119.1 L849.8,118.9 L850.2,118.4 L850.6,118.4 L851.1,122.0 L851.5,116.0 L851.9,111.0 L852.3,99.2 L852.8,94.9 L853.2,94.7 L853.6,93.4 L854.0,94.1 L854.5,94.4 L854.9,94.1 L855.3,93.5 L855.7,93.8 L856.2,93.8 L856.6,93.1 L857.0,94.3 L857.4,94.1 L857.9,94.1 L858.3,93.0 L858.7,93.1 L859.1,92.9 L859.5,93.8 L860.0,93.9 L860.4,93.2 L860.8,94.0 L861.2,93.2 L861.7,93.2 L862.1,94.2 L862.5,93.8 L862.9,93.8 L863.4,92.5 L863.8,92.0 L864.2,93.8 L864.6,93.7 L865.1,95.2 L865.5,93.5 L865.9,93.7 L866.3,94.4 L866.8,93.1 L867.2,94.7 L867.6,93.8 L868.0,93.6 L868.4,94.5 L868.9,93.1 L869.3,92.9 L869.7,94.6 L870.1,94.6 L870.6,93.2 L871.0,93.6 L871.4,94.4 L871.8,93.8 L872.3,93.7 L872.7,93.7 L873.1,93.0 L873.5,93.3 L874.0,92.4 L874.4,92.7 L874.8,93.1 L875.2,92.8 L875.7,92.7 L876.1,93.1 L876.5,94.4 L876.9,93.0 L877.4,93.5 L877.8,92.5 L878.2,93.5 L878.6,93.2 L879.0,93.3 L879.5,92.4 L879.9,93.4 L880.3,93.7 L880.7,93.3 L881.2,93.8 L881.6,93.4 L882.0,93.5 L882.4,93.3 L882.9,92.2 L883.3,93.7 L883.7,93.4 L884.1,93.6 L884.6,93.0 L885.0,94.2 L885.4,93.9 L885.8,93.5 L886.3,93.1 L886.7,93.5 L887.1,93.8 L887.5,94.0 L887.9,93.1 L888.4,92.5 L888.8,93.2 L889.2,93.3 L889.6,93.1 L890.1,94.0 L890.5,93.6 L890.9,93.6 L891.3,93.2 L891.8,93.4 L892.2,94.2 L892.6,92.6 L893.0,92.3 L893.5,93.6 L893.9,93.1 L894.3,93.2 L894.7,92.9 L895.2,94.4 L895.6,92.3 L896.0,93.7 L896.4,92.6 L896.8,93.4 L897.3,93.7 L897.7,93.5 L898.1,92.8 L898.5,94.0 L899.0,93.7 L899.4,93.8 L899.8,94.6 L900.2,92.6 L900.7,93.1 L901.1,93.5 L901.5,92.7 L901.9,94.1 L902.4,93.5 L902.8,92.3 L903.2,92.8 L903.6,95.0 L904.1,95.7 L904.5,94.2 L904.9,92.8 L905.3,93.8 L905.8,93.6 L906.2,93.1 L906.6,94.1 L907.0,93.4 L907.4,93.0 L907.9,93.2 L908.3,93.2 L908.7,93.9 L909.1,93.2 L909.6,93.8 L910.0,92.7 L910.4,91.8 L910.8,94.0 L911.3,95.0 L911.7,93.8 L912.1,93.3 L912.5,92.8 L913.0,92.8 L913.4,94.1 L913.8,94.1 L914.2,92.7 L914.7,94.3 L915.1,92.8 L915.5,93.7 L915.9,93.1 L916.3,93.1 L916.8,93.1 L917.2,93.0 L917.6,94.2 L918.0,97.2 L918.5,93.6 L918.9,93.4 L919.3,92.8 L919.7,93.8 L920.2,94.1 L920.6,94.1 L921.0,93.8 L921.4,93.1 L921.9,94.2 L922.3,92.8 L922.7,93.4 L923.1,93.8 L923.6,94.5 L924.0,93.5 L924.4,93.2 L924.8,94.8 L925.3,92.8 L925.7,92.5 L926.1,93.4 L926.5,93.3 L926.9,92.0 L927.4,92.8 L927.8,94.3 L928.2,93.7 L928.6,93.8 L929.1,93.8 L929.5,95.3 L929.9,93.2 L930.3,94.1 L930.8,93.6 L931.2,93.8 L931.6,93.1 L932.0,93.9 L932.5,94.2 L932.9,93.4 L933.3,92.8 L933.7,93.9 L934.2,92.8 L934.6,93.5 L935.0,94.1 L935.4,92.7 L935.8,94.3 L936.3,93.1 L936.7,97.2 L937.1,93.4 L937.5,94.6 L938.0,94.3 L938.4,93.0 L938.8,93.6 L939.2,93.7 L939.7,94.1 L940.1,93.5 L940.5,94.7 L940.9,94.5 L941.4,93.9 L941.8,94.3 L942.2,94.3 L942.6,93.8 L943.1,93.9 L943.5,93.9 L943.9,92.7 L944.3,93.1 L944.8,93.0 L945.2,93.8 L945.6,94.2 L946.0,94.8 L946.4,94.1 L946.9,95.2 L947.3,94.2 L947.7,93.3 L948.1,92.7 L948.6,93.3 L949.0,94.6 L949.4,93.7 L949.8,94.7 L950.3,93.6 L950.7,94.3 L951.1,93.7 L951.5,92.6 L952.0,93.8 L952.4,92.9 L952.8,94.5 L953.2,94.9 L953.7,93.8 L954.1,93.6 L954.5,95.3 L954.9,94.9 L955.3,96.1 L955.8,95.2 L956.2,94.5 L956.6,95.2 L957.0,95.5 L957.5,96.0 L957.9,94.6 L958.3,94.2 L958.7,94.3 L959.2,94.4 L959.6,95.4 L960.0,93.2 L960.4,94.4 L960.9,94.4 L961.3,93.7 L961.7,95.6 L962.1,94.0 L962.6,94.0 L963.0,93.5 L963.4,92.8 L963.8,93.3 L964.2,94.7 L964.7,93.7 L965.1,93.2 L965.5,93.3 L965.9,94.2 L966.4,94.5 L966.8,93.0 L967.2,93.1 L967.6,93.4 L968.1,94.5 L968.5,92.2 L968.9,95.3 L969.3,93.6 L969.8,92.0 L970.2,93.5 L970.6,93.2 L971.0,94.2 L971.5,92.5 L971.9,94.2 L972.3,93.2 L972.7,93.3 L973.2,94.1 L973.6,92.8 L974.0,94.3 L974.4,93.8 L974.8,93.4 L975.3,93.6 L975.7,93.1 L976.1,92.8 L976.5,93.6 L977.0,93.7 L977.4,93.7 L977.8,93.6 L978.2,92.8 L978.7,93.5 L979.1,93.1 L979.5,93.4 L979.9,93.9 L980.4,92.8 L980.8,94.1 L981.2,93.4 L981.6,92.4 L982.1,98.1 L982.5,93.4 L982.9,94.4 L983.3,93.7 L983.7,94.4 L984.2,93.6 L984.6,93.7 L985.0,93.3 L985.4,92.3 L985.9,93.2 L986.3,92.9 L986.7,93.4 L987.1,93.5 L987.6,93.9 L988.0,94.6 L988.4,93.3 L988.8,92.3 L989.3,93.1 L989.7,93.7 L990.1,92.3 L990.5,93.7 L991.0,93.8 L991.4,94.2 L991.8,94.0 L992.2,93.5 L992.7,92.1 L993.1,93.5 L993.5,94.1 L993.9,93.8 L994.3,93.5 L994.8,94.5 L995.2,93.3 L995.6,92.9 L996.0,93.2 L996.5,93.0 L996.9,94.2 L997.3,94.5 L997.7,92.5 L998.2,92.7 L998.6,94.4 L999.0,96.8 L999.4,93.4 L999.9,93.0 L1000.3,93.2 L1000.7,93.7 L1001.1,93.2 L1001.6,93.3 L1002.0,93.4 L1002.4,94.6 L1002.8,95.3 L1003.2,93.9 L1003.7,94.5 L1004.1,93.2 L1004.5,92.9 L1004.9,93.2 L1005.4,93.6 L1005.8,93.3 L1006.2,92.6 L1006.6,93.9 L1007.1,92.8 L1007.5,92.9 L1007.9,93.2 L1008.3,92.4 L1008.8,93.8 L1009.2,92.8 L1009.6,94.0 L1010.0,93.9 L1010.5,94.1 L1010.9,93.1 L1011.3,94.0 L1011.7,93.3 L1012.2,94.1 L1012.6,92.7 L1013.0,92.2 L1013.4,93.2 L1013.8,92.3 L1014.3,93.0 L1014.7,91.9 L1015.1,93.3 L1015.5,94.4 L1016.0,92.4 L1016.4,93.5 L1016.8,94.1 L1017.2,93.8 L1017.7,94.4 L1018.1,93.5 L1018.5,94.1 L1018.9,92.4 L1019.4,92.9 L1019.8,94.5 L1020.2,94.4 L1020.6,93.8 L1021.1,94.7 L1021.5,93.5 L1021.9,93.5 L1022.3,94.0 L1022.7,93.8 L1023.2,93.1 L1023.6,92.5 L1024.0,92.5 L1024.4,93.5 L1024.9,92.9 L1025.3,94.0 L1025.7,93.2 L1026.1,94.2 L1026.6,93.0 L1027.0,94.4 L1027.4,94.2 L1027.8,93.5 L1028.3,93.2 L1028.7,94.5 L1029.1,93.9 L1029.5,93.5 L1030.0,93.4 L1030.4,94.2 L1030.8,93.5 L1031.2,93.8 L1031.6,92.7 L1032.1,93.2 L1032.5,94.5 L1032.9,95.1 L1033.3,93.6 L1033.8,92.9 L1034.2,93.5 L1034.6,93.1 L1035.0,94.0 L1035.5,94.6 L1035.9,93.2 L1036.3,93.6 L1036.7,93.2 L1037.2,94.7 L1037.6,93.6 L1038.0,94.2 L1038.4,93.2 L1038.9,94.1 L1039.3,94.2 L1039.7,94.2 L1040.1,92.9 L1040.6,93.8 L1041.0,94.3 L1041.4,94.5 L1041.8,94.5 L1042.2,92.8 L1042.7,95.1 L1043.1,94.4 L1043.5,93.4 L1043.9,93.0 L1044.4,94.0 L1044.8,93.3 L1045.2,93.3 L1045.6,93.2 L1046.1,93.9 L1046.5,92.8 L1046.9,93.7 L1047.3,92.8 L1047.8,94.7 L1048.2,93.3 L1048.6,94.8 L1049.0,94.9 L1049.5,93.6 L1049.9,94.5 L1050.3,93.6 L1050.7,94.7 L1051.1,92.8 L1051.6,94.0 L1052.0,94.7 L1052.4,93.9 L1052.8,93.4 L1053.3,94.5 L1053.7,93.6 L1054.1,92.6 L1054.5,93.4 L1055.0,94.0 L1055.4,94.4 L1055.8,93.6 L1056.2,95.1 L1056.7,96.1 L1057.1,94.5 L1057.5,94.8 L1057.9,92.9 L1058.4,94.0 L1058.8,94.8 L1059.2,94.9 L1059.6,93.7 L1060.1,94.7 L1060.5,94.5 L1060.9,94.2 L1061.3,96.6 L1061.7,94.1 L1062.2,94.1 L1062.6,93.2 L1063.0,93.0 L1063.4,95.3 L1063.9,92.4 L1064.3,94.1 L1064.7,93.3 L1065.1,94.7 L1065.6,94.0 L1066.0,94.0 L1066.4,94.1 L1066.8,93.6 L1067.3,93.8 L1067.7,94.9 L1068.1,94.3 L1068.5,93.7 L1069.0,93.8 L1069.4,94.5 L1069.8,94.5 L1070.2,94.4 L1070.6,95.1 L1071.1,95.3 L1071.5,93.3 L1071.9,94.7 L1072.3,94.3 L1072.8,94.9 L1073.2,93.5 L1073.6,93.2 L1074.0,94.6 L1074.5,94.1 L1074.9,95.0 L1075.3,93.2 L1075.7,93.9 L1076.2,95.1 L1076.6,93.7 L1077.0,94.3 L1077.4,94.3 L1077.9,94.4 L1078.3,95.1 L1078.7,95.0 L1079.1,94.2 L1079.6,94.7 L1080.0,95.4 L1080.4,96.0 L1080.8,102.7 L1081.2,107.8 L1081.7,112.0 L1082.1,112.0 L1082.5,113.5 L1082.9,116.9 L1083.4,117.8 L1083.8,124.6 L1084.2,124.5 L1084.6,126.9 L1085.1,128.0 L1085.5,128.9 L1085.9,137.3 L1086.3,126.3 L1086.8,138.8 L1087.2,137.7 L1087.6,138.4 L1088.0,142.7 L1088.5,154.0 L1088.9,175.4 L1089.3,178.0 L1089.7,180.6 L1090.1,195.5 L1090.6,202.5 L1091.0,213.9 L1091.4,206.9 L1091.8,216.1 L1092.3,226.5 L1092.7,225.7 L1093.1,230.7 L1093.5,233.6 L1094.0,232.5 L1094.4,232.6 L1094.8,233.5 L1095.2,232.9 L1095.7,239.7 L1096.1,242.7 L1096.5,240.6 L1096.9,245.7 L1097.4,249.2 L1097.8,241.2 L1098.2,248.2 L1098.6,247.4 L1099.0,246.5 L1099.5,254.4 L1099.9,248.9 L1100.3,249.3 L1100.7,251.1 L1101.2,248.9 L1101.6,252.9 L1102.0,258.1 L1102.4,250.5 L1102.9,252.6 L1103.3,245.5 L1103.7,247.5 L1104.1,250.2 L1104.6,247.7 L1105.0,241.9 L1105.4,240.8 L1105.8,241.8 L1106.3,239.6 L1106.7,240.4 L1107.1,237.9 L1107.5,233.2 L1108.0,234.0 L1108.4,230.5 L1108.8,221.4 L1109.2,209.1 L1109.6,194.8 L1110.1,181.5 L1110.5,169.3 L1110.9,164.4 L1111.3,169.7 L1111.8,173.7 L1112.2,166.7 L1112.6,169.9 L1113.0,178.8 L1113.5,171.0 L1113.9,174.8 L1114.3,171.0 L1114.7,175.2 L1115.2,173.6 L1115.6,176.3 L1116.0,181.7 L1116.4,179.4 L1116.9,181.6 L1117.3,176.4 L1117.7,181.7 L1118.1,178.0 L1118.5,163.8 L1119.0,156.3 L1119.4,149.2 L1119.8,144.3 L1120.2,145.8 L1120.7,136.8 L1121.1,129.9 L1121.5,123.9 L1121.9,123.0 L1122.4,114.2 L1122.8,109.0 L1123.2,105.7 L1123.6,99.7 L1124.1,95.9 L1124.5,97.8 L1124.9,97.7 L1125.3,98.7 L1125.8,100.1 L1126.2,100.2 L1126.6,99.3 L1127.0,96.3 L1127.5,96.0 L1127.9,94.5 L1128.3,92.8 L1128.7,94.9 L1129.1,95.1 L1129.6,95.7 L1130.0,97.6 L1130.4,98.7 L1130.8,99.0 L1131.3,98.5 L1131.7,99.0 L1132.1,97.1 L1132.5,93.6 L1133.0,92.7 L1133.4,93.7 L1133.8,93.2 L1134.2,92.4 L1134.7,93.0 L1135.1,92.1 L1135.5,92.3 L1135.9,92.0 L1136.4,93.0 L1136.8,91.9 L1137.2,91.0 L1137.6,92.7 L1138.0,91.4 L1138.5,91.6 L1138.9,91.8 L1139.3,92.2 L1139.7,92.8 L1140.2,92.6 L1140.6,91.6 L1141.0,91.5 L1141.4,91.3 L1141.9,91.4 L1142.3,91.4 L1142.7,92.2 L1143.1,92.6 L1143.6,91.8 L1144.0,91.6 L1144.4,91.8 L1144.8,92.7 L1145.3,92.1 L1145.7,92.7 L1146.1,91.7 L1146.5,92.4 L1147.0,91.8 L1147.4,91.5 L1147.8,91.6 L1148.2,90.9 L1148.6,92.3 L1149.1,92.9 L1149.5,91.0 L1149.9,90.7 L1150.3,90.7 L1150.8,91.4 L1151.2,91.2 L1151.6,91.4 L1152.0,92.2 L1152.5,91.8 L1152.9,91.1 L1153.3,91.8 L1153.7,90.2 L1154.2,92.3 L1154.6,91.6 L1155.0,90.7 L1155.4,91.7 L1155.9,91.9 L1156.3,92.1 L1156.7,91.7 L1157.1,90.3 L1157.5,90.9 L1158.0,90.9 L1158.4,91.5 L1158.8,90.6 L1159.2,91.0 L1159.7,91.6 L1160.1,91.3 L1160.5,90.9 L1160.9,90.4 L1161.4,91.1 L1161.8,90.8 L1162.2,89.9 L1162.6,91.5 L1163.1,91.8 L1163.5,90.5 L1163.9,90.8 L1164.3,91.1 L1164.8,90.9 L1165.2,91.3 L1165.6,90.8 L1166.0,96.4 L1166.4,100.4 L1166.9,107.8 L1167.3,112.6 L1167.7,116.2 L1168.1,122.4 L1168.6,124.5 L1169.0,129.6 L1169.4,134.4 L1169.8,135.9 L1170.3,141.5 L1170.7,149.2 L1171.1,154.7 L1171.5,160.3 L1172.0,165.7 L1172.4,170.0 L1172.8,173.1 L1173.2,179.7 L1173.7,180.3 L1174.1,187.5 L1174.5,198.4 L1174.9,196.7 L1175.4,203.7 L1175.8,213.2 L1176.2,212.5 L1176.6,211.7 L1177.0,217.1 L1177.5,216.4 L1177.9,220.9 L1178.3,222.0 L1178.7,222.2 L1179.2,215.9 L1179.6,215.0 L1180.0,207.4 L1180.4,212.7 L1180.9,200.9 L1181.3,193.3 L1181.7,191.7 L1182.1,194.5 L1182.6,195.1 L1183.0,203.1 L1183.4,205.8 L1183.8,206.8 L1184.3,202.7 L1184.7,192.1 L1185.1,192.9 L1185.5,179.4 L1185.9,182.9 L1186.4,173.6 L1186.8,175.3 L1187.2,175.3 L1187.6,186.6 L1188.1,196.9 L1188.5,189.6 L1188.9,192.7 L1189.3,198.1 L1189.8,195.9 L1190.2,185.6 L1190.6,173.7 L1191.0,162.6 L1191.5,157.1 L1191.9,132.6 L1192.3,126.1 L1192.7,121.8 L1193.2,118.9 L1193.6,119.0 L1194.0,114.1 L1194.4,115.5 L1194.9,117.5 L1195.3,117.0 L1195.7,116.7 L1196.1,116.0 L1196.5,113.9 L1197.0,111.4 L1197.4,102.0 L1197.8,97.3 L1198.2,94.0 L1198.7,96.3 L1199.1,102.2 L1199.5,104.5 L1199.9,99.7 L1200.4,97.1 L1200.8,93.9 L1201.2,93.0 L1201.6,94.3 L1202.1,94.7 L1202.5,96.2 L1202.9,97.2 L1203.3,95.4 L1203.8,97.8 L1204.2,98.2 L1204.6,97.0 L1205.0,97.9 L1205.4,100.0 L1205.9,100.6 L1206.3,100.8 L1206.7,101.2 L1207.1,97.2 L1207.6,94.9 L1208.0,92.4 L1208.4,91.9 L1208.8,91.9 L1209.3,91.2 L1209.7,91.4 L1210.1,93.3 L1210.5,91.7 L1211.0,92.9 L1211.4,93.0 L1211.8,91.7 L1212.2,92.5 L1212.7,92.2 L1213.1,91.4 L1213.5,92.4 L1213.9,92.5 L1214.4,91.7 L1214.8,91.2 L1215.2,91.5 L1215.6,92.7 L1216.0,92.2 L1216.5,91.8 L1216.9,90.6 L1217.3,91.1 L1217.7,91.1 L1218.2,90.9 L1218.6,91.8 L1219.0,91.3 L1219.4,91.2 L1219.9,92.1 L1220.3,91.4 L1220.7,95.0 L1221.1,92.0 L1221.6,90.9 L1222.0,90.8 L1222.4,90.7 L1222.8,91.7 L1223.3,91.1 L1223.7,90.3 L1224.1,90.7 L1224.5,91.6 L1224.9,90.9 L1225.4,90.2 L1225.8,91.0 L1226.2,90.7 L1226.6,89.4 L1227.1,90.9 L1227.5,90.9 L1227.9,91.4 L1228.3,91.2 L1228.8,89.9 L1229.2,90.8 L1229.6,91.4 L1230.0,91.2 L1230.5,90.6 L1230.9,90.1 L1231.3,91.0 L1231.7,90.2 L1232.2,90.9 L1232.6,90.4 L1233.0,90.2 L1233.4,90.2 L1233.8,90.8 L1234.3,90.6 L1234.7,90.2 L1235.1,91.3 L1235.5,90.4 L1236.0,90.2 L1236.4,89.9 L1236.8,90.5 L1237.2,90.6 L1237.7,90.4 L1238.1,90.9 L1238.5,90.6 L1238.9,90.2 L1239.4,90.3 L1239.8,91.0 L1240.2,90.6 L1240.6,91.7 L1241.1,89.9 L1241.5,90.7 L1241.9,90.2 L1242.3,91.0 L1242.8,90.4 L1243.2,90.1 L1243.6,89.8 L1244.0,91.2 L1244.4,89.8 L1244.9,90.4 L1245.3,90.8 L1245.7,90.0 L1246.1,90.5 L1246.6,90.5 L1247.0,90.7 L1247.4,90.1 L1247.8,90.2 L1248.3,90.4 L1248.7,90.8 L1249.1,90.5 L1249.5,90.0 L1250.0,89.5 L1250.4,90.2 L1250.8,89.4 L1251.2,90.2 L1251.7,90.8 L1252.1,89.8 L1252.5,90.7 L1252.9,89.9 L1253.3,89.5 L1253.8,90.3 L1254.2,90.2 L1254.6,88.7 L1255.0,90.0 L1255.5,89.9 L1255.9,89.6 L1256.3,90.1 L1256.7,90.1 L1257.2,89.8 L1257.6,91.5 L1258.0,89.2 L1258.4,90.7 L1258.9,90.7 L1259.3,89.7 L1259.7,90.0 L1260.1,90.7 L1260.6,89.9 L1261.0,90.7 L1261.4,90.4 L1261.8,90.9 L1262.3,90.4 L1262.7,89.7 L1263.1,89.9 L1263.5,89.7 L1263.9,89.4 L1264.4,89.9 L1264.8,90.3 L1265.2,90.1 L1265.6,88.9 L1266.1,89.9 L1266.5,89.7 L1266.9,89.9 L1267.3,89.7 L1267.8,89.6 L1268.2,89.8 L1268.6,89.9 L1269.0,93.1 L1269.5,90.3 L1269.9,89.5 L1270.3,89.3 L1270.7,89.2 L1271.2,89.7 L1271.6,90.2 L1272.0,89.4 L1272.4,89.4 L1272.8,90.6" fill="none" stroke="#d52a2e" stroke-width="2.7" stroke-linejoin="round"/>
<rect x="665.4" y="70" width="606.1" height="206" fill="none" stroke="#262626" stroke-width="3"/>
<g stroke="#262626" stroke-width="2">
  <line x1="665" y1="138" x2="674" y2="138"/>
  <line x1="665" y1="183.8" x2="674" y2="183.8"/>
  <line x1="665" y1="229.6" x2="674" y2="229.6"/>
</g>
<g class="ax" font-size="21" text-anchor="end">
  <text x="655" y="97">0</text>
  <text x="655" y="143">-100</text>
  <text x="655" y="189">-200</text>
  <text x="655" y="235">-300</text>
  <text x="655" y="280">-400</text>
</g>
<g class="ax" font-size="21" text-anchor="middle">
  <text x="665.4" y="302.5">0</text>
  <text x="806" y="302.5">10</text>
  <text x="947" y="302.5">20</text>
  <text x="1089" y="302.5">30</text>
  <text x="1230" y="302.5">40</text>
</g>
<text class="ax" font-size="22" x="928.5" y="330.5">X / mm</text>
<text class="ax" font-size="23" transform="translate(594.5 235) rotate(-90)" x="0" y="0">Depth / um</text>
<text class="lab" x="577" y="339.5">(a)</text>

<!-- ============ MAP B ============ -->
<rect x="6" y="401.5" width="454" height="294" fill="#cc3c32"/>
<g id="mapB-features">
<g filter="url(#bl2)" opacity="0.88">
<path d="M25.5,419.4 L26.6,421.7 L28.4,423.6 L28.4,426.5 L29.6,428.8 L31.9,430.5 L33.3,432.7 L34.0,435.2 L33.8,438.3 L33.7,441.6 L34.4,444.2 L36.4,446.0 L39.3,447.3 L39.8,450.0 L38.2,453.9 L37.8,457.1 L38.4,459.8 L40.7,461.6 L43.3,463.5 L43.8,466.5 L44.7,469.0 L46.9,470.6 L48.7,472.5 L49.6,475.0 L50.1,477.8 L50.7,480.4 L51.5,483.1 L52.3,484.8 L54.3,485.8 L55.7,488.0 L57.1,490.1 L59.9,491.5 L61.3,493.6 L61.2,496.6 L62.4,498.9 L64.4,500.7 L66.1,502.7 L67.8,504.5 L69.0,506.1 L70.2,507.8 L70.9,510.3 L71.8,512.7 L73.5,514.8 L75.3,516.8 L77.5,518.6 L79.6,520.4 L81.0,522.6 L81.7,525.1 L82.5,527.6 L84.0,529.7 L101.0,521.9 L99.6,519.7 L97.8,517.7 L96.7,515.3 L97.2,512.3 L97.0,509.6 L95.2,507.6 L94.7,505.0 L94.1,502.4 L92.2,500.5 L91.9,497.8 L92.5,494.1 L91.8,490.8 L90.2,488.6 L88.5,486.6 L87.8,484.1 L87.4,481.3 L85.8,479.3 L83.4,477.7 L82.0,475.6 L80.9,473.3 L80.3,470.6 L79.9,467.1 L77.6,464.8 L75.0,463.5 L72.8,461.9 L71.2,459.9 L69.3,458.1 L66.6,456.8 L64.6,455.1 L63.2,452.9 L61.9,451.0 L60.5,449.3 L59.3,447.2 L58.3,444.8 L56.2,443.1 L53.3,441.9 L51.3,440.1 L49.9,437.9 L47.7,436.2 L45.9,434.4 L45.1,432.1 L43.7,430.1 L41.1,428.5 L39.8,426.3 L39.3,423.7 L38.1,421.4 L37.9,418.6 L36.7,416.3 L33.9,414.9 Z" fill="#a57a33"/>
<path d="M160.3,414.7 L159.5,417.0 L157.8,418.9 L155.0,420.2 L152.8,421.9 L152.2,424.3 L149.8,425.9 L147.7,427.6 L147.7,430.4 L146.7,432.6 L143.9,434.0 L140.7,435.1 L138.6,436.8 L137.4,439.0 L136.8,441.4 L137.0,444.1 L137.2,446.8 L136.4,449.1 L134.4,450.8 L131.7,452.1 L130.0,454.0 L128.6,456.1 L126.3,457.6 L124.9,459.6 L124.3,462.1 L121.9,463.5 L119.1,464.5 L118.9,467.1 L119.6,470.3 L117.8,472.2 L115.4,473.6 L114.4,475.9 L112.7,477.7 L112.3,480.3 L112.8,483.5 L110.8,485.2 L109.8,487.5 L109.5,491.4 L108.0,494.5 L106.2,496.5 L105.4,498.8 L105.4,501.5 L105.0,503.9 L103.0,505.8 L101.2,507.8 L100.7,510.2 L100.4,512.7 L99.3,515.0 L98.8,517.4 L99.9,520.4 L118.3,527.0 L120.6,525.2 L121.6,522.9 L121.8,520.4 L123.7,518.4 L125.0,516.3 L125.8,513.9 L127.3,511.9 L128.7,509.8 L129.5,507.4 L130.1,505.1 L131.0,502.7 L131.0,501.2 L130.9,499.7 L133.5,498.4 L135.4,496.7 L134.8,493.5 L136.6,491.7 L139.8,490.7 L141.8,489.0 L142.7,486.7 L143.1,484.1 L145.0,482.3 L146.9,480.4 L147.8,477.9 L149.3,475.8 L150.7,473.7 L151.9,471.6 L152.9,469.4 L153.6,466.9 L154.3,464.5 L154.1,461.6 L153.7,458.6 L154.4,456.0 L155.1,453.4 L155.6,450.8 L156.8,448.7 L158.0,446.5 L158.1,443.8 L159.0,441.5 L160.4,439.5 L159.3,436.1 L159.2,433.4 L161.7,431.9 L162.4,429.4 L162.8,426.9 L165.2,425.3 L166.9,423.5 L167.8,421.1 L168.5,418.8 Z" fill="#a57a33"/>
<path d="M79.2,564.0 L77.9,566.2 L77.8,568.9 L77.2,571.4 L75.4,573.3 L73.6,575.2 L70.6,576.6 L67.9,578.1 L66.3,580.2 L65.0,582.2 L64.6,584.5 L64.3,587.0 L62.5,588.9 L60.5,590.7 L60.2,593.3 L59.8,595.9 L58.8,598.2 L57.5,600.4 L55.8,602.3 L54.2,604.4 L53.3,606.7 L52.7,609.2 L51.7,611.5 L50.8,613.9 L50.2,616.4 L48.1,618.1 L46.3,620.0 L46.3,622.9 L44.4,624.7 L42.3,626.4 L43.7,630.0 L44.6,633.0 L41.9,634.2 L38.3,635.0 L37.5,637.5 L38.4,640.8 L37.5,643.2 L36.5,645.5 L36.8,648.5 L35.9,650.9 L33.7,652.6 L32.9,654.1 L32.0,655.6 L29.7,657.0 L27.3,658.3 L26.8,661.1 L27.3,664.5 L25.7,666.5 L23.9,668.3 L23.5,671.1 L37.3,681.5 L38.1,678.9 L39.0,676.5 L40.7,674.6 L42.8,673.0 L44.9,671.5 L46.4,669.5 L48.0,667.5 L51.3,665.9 L53.6,663.4 L54.9,661.2 L57.2,659.7 L59.2,657.9 L59.8,655.4 L60.3,652.7 L61.6,650.6 L62.7,648.3 L62.9,645.6 L64.1,643.2 L66.5,641.4 L68.1,639.4 L68.9,637.0 L70.0,634.7 L71.7,632.7 L72.5,630.3 L72.2,627.4 L74.2,625.6 L76.7,624.0 L75.9,620.8 L75.1,617.6 L77.5,616.0 L80.6,614.8 L83.5,613.4 L86.3,612.0 L87.4,609.7 L87.0,606.8 L86.6,603.8 L87.9,601.6 L89.7,599.7 L90.7,597.2 L91.6,594.5 L92.5,592.1 L92.9,589.5 L92.8,586.7 L92.6,583.9 L91.9,580.8 L91.9,578.0 L93.1,575.8 L94.9,573.9 L95.9,571.6 Z" fill="#a57e33"/>
<path d="M106.6,572.7 L108.3,574.7 L110.3,576.5 L110.9,579.1 L111.3,581.7 L111.6,584.4 L112.4,586.9 L113.4,589.2 L113.9,591.8 L115.0,594.1 L115.4,596.8 L114.9,599.9 L116.2,602.1 L117.4,604.3 L117.4,607.2 L119.1,609.2 L121.4,610.8 L122.5,613.2 L123.2,615.6 L124.3,618.0 L125.4,620.2 L126.6,622.5 L127.8,624.8 L127.9,627.5 L128.2,630.2 L129.8,632.3 L133.1,633.5 L136.3,634.8 L137.0,637.2 L136.0,640.6 L135.5,643.7 L136.7,645.9 L139.0,647.6 L141.9,649.0 L143.9,650.8 L144.4,653.5 L145.2,655.9 L147.4,657.7 L148.5,659.9 L149.2,662.4 L151.6,663.9 L153.9,665.4 L155.5,667.4 L156.0,670.0 L155.7,672.9 L157.4,674.9 L161.5,675.9 L163.7,677.7 L162.2,681.1 L161.9,684.1 L178.2,676.7 L176.7,674.7 L176.1,672.1 L175.7,669.5 L174.3,667.4 L173.3,665.0 L173.2,662.3 L172.5,659.8 L171.7,657.2 L170.9,654.6 L169.9,652.1 L169.7,649.4 L169.4,646.7 L168.4,644.3 L167.5,641.9 L166.9,639.4 L165.3,637.3 L163.4,635.4 L161.8,633.4 L160.5,631.2 L159.9,628.6 L159.8,625.8 L160.1,622.8 L159.6,620.2 L157.3,618.5 L155.1,616.8 L154.6,614.2 L154.8,611.2 L154.3,608.6 L152.7,606.6 L151.1,604.5 L149.8,602.3 L148.8,600.0 L147.6,597.8 L146.0,595.7 L144.6,593.5 L144.2,590.9 L142.9,588.7 L140.1,587.3 L137.9,585.5 L136.8,583.2 L135.2,581.2 L133.7,579.1 L133.2,576.5 L130.8,574.8 L126.9,573.9 L125.6,571.7 L126.4,568.5 L125.5,566.1 L123.5,564.2 Z" fill="#a57e33"/>
<circle cx="162" cy="565" r="9.5" fill="#a8743a"/>
<circle cx="168" cy="427" r="6" fill="#a8743a"/>
<path d="M283.0,417.8 L284.2,420.1 L286.3,421.9 L287.8,424.0 L286.9,427.2 L285.7,430.6 L286.6,433.0 L287.4,435.4 L286.6,438.7 L287.5,441.5 L290.5,443.1 L291.7,445.3 L292.1,448.0 L293.4,450.2 L293.9,452.8 L293.7,455.8 L294.9,458.1 L297.2,459.7 L298.8,461.7 L299.5,464.3 L299.8,467.0 L300.4,469.6 L301.1,472.1 L301.3,474.9 L302.3,477.3 L304.3,479.1 L306.5,480.8 L307.4,483.2 L306.8,486.4 L307.1,489.2 L307.7,491.8 L307.7,494.6 L308.9,496.9 L310.5,498.9 L311.5,501.3 L312.1,503.9 L313.2,506.1 L314.4,508.4 L315.4,511.0 L317.8,512.9 L319.8,514.7 L321.6,516.6 L323.3,518.6 L324.5,520.8 L325.7,523.1 L327.3,525.1 L329.9,526.6 L331.6,528.5 L332.2,531.1 L333.6,533.3 L356.3,520.0 L355.8,517.3 L355.6,514.5 L354.2,512.3 L352.8,510.3 L351.8,507.9 L351.5,505.1 L351.3,502.3 L350.4,499.8 L349.1,497.6 L348.6,495.0 L348.5,492.4 L345.6,491.4 L343.2,489.8 L343.4,486.8 L342.6,484.3 L340.9,482.3 L339.5,480.2 L337.3,478.5 L336.1,476.3 L336.3,473.2 L336.0,470.5 L334.3,468.5 L332.8,466.5 L330.9,464.5 L327.6,463.5 L325.5,461.7 L324.3,459.4 L321.5,458.1 L319.2,456.5 L318.0,454.2 L316.3,452.2 L313.7,450.7 L312.4,448.5 L311.8,446.0 L309.7,444.2 L307.3,442.6 L306.0,440.4 L305.4,437.8 L304.2,435.6 L303.6,433.2 L302.8,431.1 L301.0,429.3 L299.9,427.0 L298.0,425.0 L295.9,423.2 L295.9,420.4 L295.6,417.7 L294.2,415.6 L292.4,413.6 Z" fill="#a9632f"/>
<path d="M419.5,424.7 L418.1,426.6 L413.2,426.8 L409.7,427.6 L409.1,429.9 L409.2,432.6 L408.4,434.7 L406.2,436.3 L403.7,437.6 L402.3,439.5 L401.6,441.6 L399.7,443.2 L397.9,444.8 L397.7,447.3 L397.5,449.9 L396.0,451.7 L395.0,453.8 L395.0,456.4 L393.5,458.2 L390.8,459.4 L388.9,460.9 L387.3,462.5 L385.5,464.2 L383.1,465.6 L381.1,467.1 L380.7,469.5 L381.2,472.5 L379.4,474.1 L375.5,474.6 L373.2,476.1 L371.8,478.4 L372.1,481.4 L372.3,484.1 L371.1,486.0 L369.9,488.1 L367.5,489.5 L364.7,490.6 L362.5,492.2 L361.0,494.0 L361.3,496.7 L362.4,499.9 L363.1,502.8 L362.6,505.2 L361.6,507.3 L361.4,509.7 L360.9,512.1 L360.5,514.5 L359.2,516.4 L357.9,518.4 L358.8,521.4 L379.0,531.5 L379.6,529.2 L380.3,527.0 L382.7,525.6 L385.1,524.2 L386.3,522.2 L387.0,519.9 L388.3,518.0 L390.5,516.5 L392.3,514.8 L392.9,512.5 L393.4,510.2 L395.4,508.6 L397.5,507.1 L397.8,504.6 L398.3,502.3 L400.1,500.6 L401.2,498.5 L401.2,495.9 L400.8,493.4 L401.4,491.4 L403.3,489.9 L404.6,488.0 L404.7,485.4 L405.3,483.0 L406.7,481.2 L408.3,479.4 L408.7,477.0 L409.1,474.5 L410.7,472.7 L411.7,470.4 L410.9,467.4 L410.1,464.3 L411.4,462.3 L413.1,460.7 L413.8,458.4 L415.4,456.6 L416.7,454.7 L416.1,451.7 L415.9,449.0 L417.2,447.0 L418.4,445.0 L420.1,443.2 L422.8,441.9 L423.0,439.5 L420.9,435.8 L421.3,433.4 L423.5,431.9 L424.4,429.8 L424.2,427.1 Z" fill="#a9632f"/>
<ellipse cx="357" cy="497" rx="15" ry="11" fill="#a9682f"/>
<path d="M334.9,565.9 L332.4,567.4 L331.0,569.5 L329.6,571.6 L326.9,573.0 L324.7,574.7 L322.3,576.2 L319.5,577.6 L318.6,579.4 L318.0,581.3 L316.2,583.1 L314.9,585.3 L313.2,587.2 L309.9,588.1 L308.0,589.9 L307.1,592.4 L304.4,593.7 L301.5,594.8 L299.7,597.7 L298.9,601.7 L297.8,604.5 L296.3,606.6 L295.8,609.2 L295.7,612.0 L294.1,614.1 L293.6,616.7 L294.6,620.0 L293.9,622.5 L293.1,624.9 L292.3,627.4 L290.7,629.4 L289.2,631.5 L288.6,634.0 L288.7,636.9 L288.8,639.8 L287.3,641.9 L286.2,644.2 L286.5,647.2 L285.8,649.7 L285.0,652.3 L285.5,655.6 L285.7,658.6 L284.7,661.0 L283.8,663.3 L282.8,665.7 L281.5,667.9 L281.4,670.6 L282.1,673.7 L281.3,676.2 L280.6,678.6 L294.0,684.7 L295.9,682.8 L298.9,681.4 L300.2,679.2 L301.8,677.1 L305.2,675.8 L306.0,673.5 L304.8,670.1 L306.5,668.1 L309.7,666.9 L311.3,665.1 L313.6,663.5 L316.3,662.1 L316.9,659.5 L316.8,656.7 L318.7,654.7 L321.6,653.4 L323.1,651.3 L323.5,648.6 L325.4,646.7 L327.6,645.0 L329.2,643.0 L331.8,641.4 L335.3,640.3 L338.1,638.9 L338.3,636.1 L337.5,632.9 L338.8,630.7 L340.5,628.7 L341.9,626.6 L343.7,625.2 L345.0,624.5 L345.2,622.7 L345.7,619.9 L347.9,618.3 L349.7,616.5 L349.3,613.2 L349.7,610.5 L351.8,608.8 L353.1,606.6 L352.8,603.3 L353.5,600.0 L354.8,597.2 L354.8,594.3 L354.6,591.3 L355.4,588.8 L356.0,586.3 L356.0,583.4 L356.1,580.5 L355.9,577.5 Z" fill="#a47f32"/>
<path d="M362.2,578.1 L362.3,581.2 L362.7,584.2 L363.2,587.0 L363.0,590.4 L363.0,593.6 L364.5,595.7 L365.6,598.1 L365.7,601.2 L365.5,604.2 L366.1,606.5 L367.2,608.8 L368.7,610.9 L369.6,613.4 L370.1,616.2 L372.0,618.0 L373.5,620.1 L372.9,623.7 L372.9,626.8 L374.6,627.9 L377.0,627.7 L379.0,628.6 L379.6,631.2 L380.6,633.5 L381.6,635.9 L383.5,637.8 L387.2,638.6 L388.6,640.7 L388.4,643.8 L389.7,646.0 L392.4,646.3 L395.2,646.1 L397.2,647.4 L398.4,649.7 L399.1,652.1 L400.4,654.4 L402.4,656.3 L404.2,658.3 L406.4,660.2 L408.8,662.0 L411.3,663.7 L414.0,665.2 L414.8,667.6 L414.6,670.4 L415.5,672.8 L417.9,674.6 L420.9,676.2 L422.6,678.3 L424.1,680.4 L425.4,682.7 L439.1,677.2 L439.5,674.2 L439.6,671.5 L438.8,669.0 L437.2,666.9 L437.4,664.1 L438.8,660.8 L438.2,658.2 L436.4,656.1 L435.4,653.7 L436.5,650.4 L437.4,647.3 L436.6,644.8 L436.7,642.0 L437.4,639.0 L437.0,636.4 L437.3,633.5 L437.5,630.6 L436.3,627.6 L435.0,623.7 L434.0,620.1 L432.9,617.8 L431.2,615.8 L429.9,613.7 L429.9,610.7 L429.7,607.9 L428.6,605.5 L427.3,603.3 L425.9,601.2 L424.6,598.1 L422.7,594.5 L420.4,592.3 L418.5,590.5 L416.9,588.5 L414.7,586.9 L412.6,585.3 L411.2,583.1 L410.4,580.6 L408.7,578.6 L405.2,578.0 L401.8,576.9 L399.4,575.1 L397.6,573.2 L396.2,571.1 L393.4,570.0 L388.5,570.6 L384.7,570.3 L382.7,568.6 L379.8,567.6 L376.8,566.7 Z" fill="#a47f32"/>
</g>
<g filter="url(#bl1)" stroke="#b4a43a" stroke-width="1.4" fill="none" opacity="0.75">
    <line x1="32" y1="418" x2="92" y2="526"/>
    <line x1="165" y1="418" x2="112" y2="524"/>
    <line x1="90" y1="568" x2="30" y2="676"/>
    <line x1="114" y1="568" x2="172" y2="680"/>
  </g>
  <g filter="url(#soft)">
    <line x1="346" y1="572" x2="312" y2="644" stroke="#86cc4a" stroke-width="2"/>
    <line x1="371" y1="572" x2="402" y2="640" stroke="#8ac848" stroke-width="2"/>
    <line x1="331" y1="502" x2="348" y2="528" stroke="#8ac848" stroke-width="1.6"/>
    <line x1="381" y1="500" x2="370" y2="524" stroke="#8ac848" stroke-width="1.6"/>
    <ellipse cx="329" cy="608" rx="5.5" ry="9" transform="rotate(25 329 608)" fill="#7ccc58"/>
    <ellipse cx="329" cy="608" rx="3.5" ry="6" transform="rotate(25 329 608)" fill="#3aa0d8"/>
    <ellipse cx="388" cy="611" rx="7.5" ry="15" transform="rotate(-25 388 611)" fill="#7ccc58"/>
    <ellipse cx="388" cy="611" rx="4" ry="8" transform="rotate(-25 388 611)" fill="#5ec0a0"/>
    <ellipse cx="331" cy="502" rx="6.5" ry="4.5" transform="rotate(30 331 502)" fill="#7ccc58"/>
    <ellipse cx="331" cy="502" rx="3.5" ry="2.5" transform="rotate(30 331 502)" fill="#44b0c8"/>
    <ellipse cx="381" cy="500" rx="4.5" ry="7" transform="rotate(35 381 500)" fill="#86cc4a"/>
    <ellipse cx="368.5" cy="521.5" rx="4" ry="3" fill="#7ccc58"/>
  </g>
</g>
<line x1="6" y1="605" x2="460" y2="605" stroke="#f0e4cc" stroke-width="3" stroke-dasharray="10 6.4" stroke-dashoffset="3"/>
<circle cx="102.6" cy="546.3" r="24" fill="#2b3a92" stroke="#a8c8a0" stroke-width="1.6"/>
<text x="85.6" y="559" font-family="Liberation Sans, Arial, sans-serif" font-size="36" fill="#fff">Ti</text>
<circle cx="358.9" cy="549" r="24.3" fill="#2b3a92" stroke="#b8b890" stroke-width="1.5"/>
<text x="358.5" y="561" text-anchor="middle" font-family="Liberation Sans, Arial, sans-serif" font-size="38" fill="#fff" transform="translate(358.5 0) scale(0.75 1) translate(-358.5 0)">SS</text>

<!-- scale bars B -->
<g stroke="#2b2b2b" stroke-width="3" fill="none">
  <line x1="5.5" y1="698" x2="5.5" y2="715"/>
  <line x1="5.5" y1="708" x2="182" y2="708"/>
  <line x1="291" y1="708" x2="459.7" y2="708"/>
  <line x1="459.7" y1="696" x2="459.7" y2="714"/>
  <line x1="459.6" y1="402.7" x2="480.6" y2="402.7"/>
  <line x1="471.3" y1="402.7" x2="471.3" y2="499"/>
  <line x1="471.3" y1="616.5" x2="471.3" y2="696.4"/>
  <line x1="459.4" y1="696.4" x2="481.4" y2="696.4"/>
</g>
<text class="sr" x="191.5" y="719.5" font-size="31.5" style="font-size:31.5px">45 mm</text>
<text class="sr" style="font-size:31.5px" transform="translate(466.5 514.5) rotate(90)" x="0" y="0">30 mm</text>

<!-- colorbar B -->
<rect x="499.5" y="394.4" width="24.5" height="322" fill="url(#cbB)"/>
<text class="cb" x="500" y="389">µm</text>
<g class="cb" text-anchor="end">
  <text x="551" y="395.5">57</text>
  <text x="551" y="442">0</text>
  <text x="551" y="483">-50</text>
  <text x="551" y="523">-100</text>
  <text x="551" y="563">-150</text>
  <text x="551" y="604">-200</text>
  <text x="551" y="645">-250</text>
  <text x="551" y="685">-300</text>
  <text x="551" y="719">-342</text>
</g>

<!-- ============ CHART B ============ -->
<path d="M669.5,454.0 L669.9,454.3 L670.3,453.7 L670.7,453.2 L671.1,452.8 L671.5,453.4 L671.9,453.9 L672.3,454.0 L672.7,453.0 L673.1,452.5 L673.5,453.3 L673.9,454.3 L674.3,454.1 L674.8,452.5 L675.2,453.4 L675.6,454.6 L676.0,453.6 L676.4,454.2 L676.8,453.9 L677.2,453.8 L677.6,454.0 L678.0,453.1 L678.4,453.5 L678.8,457.5 L679.2,453.2 L679.6,453.0 L680.0,454.6 L680.4,453.7 L680.8,454.1 L681.2,453.6 L681.6,454.3 L682.0,453.5 L682.4,453.5 L682.8,453.7 L683.2,454.2 L683.6,453.8 L684.0,454.2 L684.5,454.4 L684.9,453.4 L685.3,454.2 L685.7,452.7 L686.1,453.0 L686.5,454.8 L686.9,453.3 L687.3,454.2 L687.7,453.5 L688.1,453.5 L688.5,454.8 L688.9,453.6 L689.3,453.7 L689.7,452.9 L690.1,454.3 L690.5,453.0 L690.9,454.2 L691.3,453.7 L691.7,454.0 L692.1,452.6 L692.5,453.1 L692.9,451.9 L693.3,453.1 L693.7,453.0 L694.2,453.0 L694.6,453.9 L695.0,453.5 L695.4,452.6 L695.8,453.8 L696.2,453.4 L696.6,453.5 L697.0,453.1 L697.4,453.7 L697.8,453.6 L698.2,453.3 L698.6,453.4 L699.0,454.1 L699.4,452.9 L699.8,454.3 L700.2,454.3 L700.6,454.3 L701.0,452.9 L701.4,453.7 L701.8,454.1 L702.2,454.2 L702.6,453.2 L703.0,454.2 L703.4,454.3 L703.8,453.1 L704.3,454.3 L704.7,453.7 L705.1,453.5 L705.5,453.8 L705.9,453.5 L706.3,452.6 L706.7,453.8 L707.1,454.3 L707.5,454.7 L707.9,453.6 L708.3,453.7 L708.7,453.3 L709.1,453.8 L709.5,453.8 L709.9,454.0 L710.3,453.8 L710.7,453.4 L711.1,453.7 L711.5,453.4 L711.9,452.3 L712.3,453.2 L712.7,454.5 L713.1,452.4 L713.5,453.3 L714.0,454.1 L714.4,452.9 L714.8,453.5 L715.2,453.9 L715.6,453.9 L716.0,454.1 L716.4,453.5 L716.8,452.8 L717.2,453.7 L717.6,453.2 L718.0,452.3 L718.4,454.3 L718.8,453.3 L719.2,453.7 L719.6,454.2 L720.0,454.2 L720.4,453.5 L720.8,453.2 L721.2,453.8 L721.6,453.5 L722.0,453.0 L722.4,453.3 L722.8,452.9 L723.2,453.2 L723.6,453.2 L724.1,452.3 L724.5,453.1 L724.9,453.4 L725.3,453.0 L725.7,454.1 L726.1,453.7 L726.5,453.0 L726.9,453.1 L727.3,452.5 L727.7,453.5 L728.1,454.4 L728.5,452.3 L728.9,452.8 L729.3,454.2 L729.7,452.6 L730.1,453.5 L730.5,454.7 L730.9,453.8 L731.3,453.8 L731.7,452.5 L732.1,454.0 L732.5,453.7 L732.9,453.7 L733.3,453.7 L733.8,454.1 L734.2,453.4 L734.6,452.8 L735.0,456.4 L735.4,463.1 L735.8,468.8 L736.2,467.6 L736.6,469.4 L737.0,469.8 L737.4,471.9 L737.8,467.0 L738.2,468.7 L738.6,471.7 L739.0,469.0 L739.4,468.4 L739.8,474.4 L740.2,471.6 L740.6,471.5 L741.0,470.0 L741.4,471.4 L741.8,471.7 L742.2,471.5 L742.6,468.6 L743.0,468.2 L743.5,472.7 L743.9,473.5 L744.3,467.7 L744.7,473.9 L745.1,473.3 L745.5,472.5 L745.9,471.8 L746.3,471.1 L746.7,472.3 L747.1,474.5 L747.5,472.3 L747.9,472.9 L748.3,470.2 L748.7,473.6 L749.1,476.0 L749.5,475.6 L749.9,471.5 L750.3,475.1 L750.7,478.3 L751.1,476.1 L751.5,475.5 L751.9,473.8 L752.3,478.3 L752.7,475.6 L753.1,475.8 L753.6,479.1 L754.0,478.6 L754.4,475.2 L754.8,476.3 L755.2,479.1 L755.6,481.3 L756.0,478.8 L756.4,479.7 L756.8,477.8 L757.2,478.1 L757.6,476.7 L758.0,477.1 L758.4,471.9 L758.8,477.8 L759.2,475.2 L759.6,475.3 L760.0,478.4 L760.4,476.0 L760.8,482.8 L761.2,480.1 L761.6,483.2 L762.0,496.4 L762.4,488.6 L762.8,479.3 L763.3,479.0 L763.7,479.9 L764.1,477.8 L764.5,477.4 L764.9,474.4 L765.3,474.2 L765.7,474.8 L766.1,474.8 L766.5,473.1 L766.9,470.1 L767.3,471.0 L767.7,470.0 L768.1,470.7 L768.5,471.9 L768.9,470.4 L769.3,467.9 L769.7,468.1 L770.1,469.0 L770.5,469.4 L770.9,466.5 L771.3,466.6 L771.7,466.0 L772.1,465.3 L772.5,463.7 L772.9,462.9 L773.4,460.1 L773.8,455.8 L774.2,452.7 L774.6,453.0 L775.0,453.8 L775.4,453.6 L775.8,453.3 L776.2,455.9 L776.6,453.3 L777.0,452.9 L777.4,454.2 L777.8,454.9 L778.2,453.0 L778.6,453.7 L779.0,453.3 L779.4,454.7 L779.8,452.7 L780.2,453.4 L780.6,454.0 L781.0,454.1 L781.4,453.8 L781.8,454.1 L782.2,454.2 L782.6,454.7 L783.1,453.2 L783.5,454.1 L783.9,454.0 L784.3,454.0 L784.7,455.7 L785.1,453.8 L785.5,454.4 L785.9,454.4 L786.3,454.2 L786.7,454.9 L787.1,453.7 L787.5,454.7 L787.9,454.9 L788.3,454.9 L788.7,454.2 L789.1,453.8 L789.5,454.8 L789.9,455.4 L790.3,453.7 L790.7,455.2 L791.1,453.6 L791.5,454.5 L791.9,455.0 L792.3,455.0 L792.8,454.2 L793.2,454.0 L793.6,454.8 L794.0,454.0 L794.4,453.2 L794.8,454.8 L795.2,455.5 L795.6,455.5 L796.0,455.7 L796.4,455.2 L796.8,455.3 L797.2,455.8 L797.6,454.5 L798.0,456.7 L798.4,457.6 L798.8,457.2 L799.2,460.6 L799.6,463.6 L800.0,466.2 L800.4,464.0 L800.8,465.3 L801.2,465.5 L801.6,466.7 L802.0,464.8 L802.4,465.2 L802.9,464.8 L803.3,464.4 L803.7,463.2 L804.1,463.1 L804.5,461.3 L804.9,463.3 L805.3,461.4 L805.7,458.6 L806.1,459.7 L806.5,457.9 L806.9,457.3 L807.3,456.4 L807.7,456.2 L808.1,457.1 L808.5,455.8 L808.9,455.6 L809.3,456.2 L809.7,455.1 L810.1,455.4 L810.5,459.7 L810.9,463.6 L811.3,469.5 L811.7,474.4 L812.1,474.9 L812.6,474.2 L813.0,474.0 L813.4,474.1 L813.8,473.5 L814.2,474.2 L814.6,472.8 L815.0,472.7 L815.4,473.0 L815.8,474.8 L816.2,474.7 L816.6,473.0 L817.0,474.1 L817.4,473.9 L817.8,478.1 L818.2,478.6 L818.6,473.3 L819.0,473.4 L819.4,471.6 L819.8,472.8 L820.2,476.8 L820.6,471.5 L821.0,469.6 L821.4,465.1 L821.8,471.1 L822.2,473.3 L822.7,475.1 L823.1,475.0 L823.5,473.9 L823.9,476.5 L824.3,476.3 L824.7,477.2 L825.1,476.4 L825.5,472.7 L825.9,476.4 L826.3,473.6 L826.7,474.3 L827.1,474.5 L827.5,474.4 L827.9,477.7 L828.3,475.2 L828.7,473.0 L829.1,477.2 L829.5,476.1 L829.9,477.3 L830.3,475.5 L830.7,478.1 L831.1,473.1 L831.5,476.8 L831.9,479.0 L832.4,472.9 L832.8,474.4 L833.2,475.3 L833.6,475.3 L834.0,477.0 L834.4,476.8 L834.8,475.0 L835.2,474.7 L835.6,470.0 L836.0,466.2 L836.4,462.1 L836.8,464.3 L837.2,468.5 L837.6,473.7 L838.0,478.2 L838.4,479.6 L838.8,477.3 L839.2,479.5 L839.6,479.5 L840.0,483.6 L840.4,481.6 L840.8,481.8 L841.2,480.3 L841.6,484.2 L842.1,477.9 L842.5,479.9 L842.9,479.6 L843.3,482.9 L843.7,480.4 L844.1,477.6 L844.5,483.5 L844.9,479.6 L845.3,478.7 L845.7,481.5 L846.1,478.2 L846.5,480.1 L846.9,476.5 L847.3,477.4 L847.7,477.5 L848.1,473.6 L848.5,475.4 L848.9,474.0 L849.3,478.1 L849.7,476.6 L850.1,473.5 L850.5,472.9 L850.9,474.1 L851.3,472.1 L851.7,474.8 L852.2,475.7 L852.6,473.9 L853.0,468.3 L853.4,464.8 L853.8,460.2 L854.2,455.0 L854.6,452.3 L855.0,454.2 L855.4,453.9 L855.8,452.8 L856.2,453.8 L856.6,452.4 L857.0,453.4 L857.4,453.5 L857.8,453.3 L858.2,452.4 L858.6,453.1 L859.0,453.2 L859.4,453.4 L859.8,454.6 L860.2,454.1 L860.6,452.6 L861.0,453.0 L861.4,453.3 L861.9,453.2 L862.3,453.9 L862.7,453.4 L863.1,454.2 L863.5,453.3 L863.9,454.1 L864.3,453.7 L864.7,453.3 L865.1,453.8 L865.5,453.2 L865.9,453.3 L866.3,453.4 L866.7,452.8 L867.1,454.6 L867.5,454.7 L867.9,453.2 L868.3,453.0 L868.7,452.3 L869.1,453.2 L869.5,453.1 L869.9,454.2 L870.3,453.2 L870.7,453.2 L871.1,454.4 L871.5,454.3 L872.0,453.8 L872.4,453.5 L872.8,455.6 L873.2,453.7 L873.6,453.6 L874.0,453.8 L874.4,453.5 L874.8,453.4 L875.2,454.4 L875.6,453.5 L876.0,453.9 L876.4,454.4 L876.8,453.6 L877.2,452.8 L877.6,454.7 L878.0,454.8 L878.4,454.8 L878.8,452.5 L879.2,453.9 L879.6,453.8 L880.0,454.3 L880.4,454.4 L880.8,455.1 L881.2,453.7 L881.7,453.6 L882.1,455.1 L882.5,454.5 L882.9,454.3 L883.3,453.8 L883.7,457.7 L884.1,453.1 L884.5,452.9 L884.9,453.1 L885.3,453.0 L885.7,454.6 L886.1,454.2 L886.5,453.1 L886.9,453.7 L887.3,453.8 L887.7,455.2 L888.1,455.1 L888.5,453.4 L888.9,453.6 L889.3,454.1 L889.7,454.2 L890.1,455.0 L890.5,453.6 L890.9,453.2 L891.4,452.8 L891.8,453.9 L892.2,454.0 L892.6,454.6 L893.0,453.1 L893.4,452.8 L893.8,454.3 L894.2,453.7 L894.6,453.9 L895.0,454.3 L895.4,455.6 L895.8,454.2 L896.2,453.5 L896.6,454.9 L897.0,454.5 L897.4,456.2 L897.8,453.1 L898.2,453.6 L898.6,453.9 L899.0,454.2 L899.4,454.4 L899.8,454.0 L900.2,454.2 L900.6,454.2 L901.0,454.0 L901.5,453.9 L901.9,453.0 L902.3,455.0 L902.7,453.8 L903.1,454.4 L903.5,454.8 L903.9,455.6 L904.3,453.6 L904.7,454.7 L905.1,454.6 L905.5,453.7 L905.9,454.8 L906.3,454.1 L906.7,454.1 L907.1,453.5 L907.5,453.4 L907.9,454.7 L908.3,453.5 L908.7,454.2 L909.1,454.0 L909.5,454.2 L909.9,453.6 L910.3,454.9 L910.7,453.9 L911.2,453.3 L911.6,454.3 L912.0,452.8 L912.4,454.6 L912.8,454.0 L913.2,454.5 L913.6,454.6 L914.0,454.9 L914.4,454.5 L914.8,454.2 L915.2,454.7 L915.6,453.6 L916.0,453.1 L916.4,455.2 L916.8,453.6 L917.2,454.1 L917.6,454.0 L918.0,452.5 L918.4,453.4 L918.8,454.0 L919.2,454.1 L919.6,455.7 L920.0,453.7 L920.4,454.7 L920.9,454.1 L921.3,454.2 L921.7,453.6 L922.1,452.9 L922.5,453.6 L922.9,453.4 L923.3,454.4 L923.7,453.9 L924.1,453.7 L924.5,455.2 L924.9,452.9 L925.3,454.8 L925.7,455.1 L926.1,453.2 L926.5,452.8 L926.9,454.8 L927.3,454.7 L927.7,452.2 L928.1,454.2 L928.5,455.7 L928.9,454.7 L929.3,452.9 L929.7,453.9 L930.1,453.8 L930.5,453.5 L931.0,453.9 L931.4,454.6 L931.8,455.4 L932.2,454.0 L932.6,455.1 L933.0,454.4 L933.4,455.5 L933.8,454.0 L934.2,454.3 L934.6,454.3 L935.0,453.9 L935.4,453.7 L935.8,455.3 L936.2,454.3 L936.6,453.2 L937.0,453.9 L937.4,454.9 L937.8,454.9 L938.2,455.8 L938.6,455.0 L939.0,453.3 L939.4,454.5 L939.8,455.0 L940.2,454.8 L940.7,454.5 L941.1,454.5 L941.5,454.7 L941.9,455.0 L942.3,454.0 L942.7,453.4 L943.1,454.8 L943.5,454.8 L943.9,453.6 L944.3,455.5 L944.7,454.9 L945.1,454.7 L945.5,454.4 L945.9,454.7 L946.3,455.1 L946.7,454.3 L947.1,455.3 L947.5,455.7 L947.9,455.9 L948.3,454.0 L948.7,455.7 L949.1,454.2 L949.5,454.0 L949.9,453.9 L950.3,454.6 L950.8,454.9 L951.2,454.5 L951.6,454.9 L952.0,455.4 L952.4,453.7 L952.8,455.2 L953.2,453.3 L953.6,454.2 L954.0,454.9 L954.4,454.2 L954.8,453.7 L955.2,455.5 L955.6,455.2 L956.0,455.3 L956.4,454.4 L956.8,454.3 L957.2,454.5 L957.6,455.1 L958.0,454.9 L958.4,453.7 L958.8,453.8 L959.2,454.5 L959.6,455.5 L960.0,454.2 L960.5,454.4 L960.9,454.4 L961.3,453.4 L961.7,454.0 L962.1,455.3 L962.5,455.3 L962.9,453.6 L963.3,454.5 L963.7,454.0 L964.1,454.7 L964.5,455.3 L964.9,454.4 L965.3,453.5 L965.7,454.4 L966.1,455.4 L966.5,454.8 L966.9,455.0 L967.3,454.5 L967.7,453.9 L968.1,453.2 L968.5,454.4 L968.9,454.9 L969.3,454.5 L969.7,454.6 L970.2,454.9 L970.6,454.6 L971.0,454.6 L971.4,455.4 L971.8,454.2 L972.2,454.9 L972.6,455.3 L973.0,454.3 L973.4,455.0 L973.8,453.4 L974.2,454.3 L974.6,454.6 L975.0,455.2 L975.4,454.9 L975.8,454.1 L976.2,455.2 L976.6,454.1 L977.0,456.2 L977.4,454.5 L977.8,454.1 L978.2,454.4 L978.6,454.7 L979.0,454.0 L979.4,455.3 L979.8,455.4 L980.3,454.6 L980.7,453.9 L981.1,454.4 L981.5,454.9 L981.9,454.5 L982.3,454.4 L982.7,455.6 L983.1,456.7 L983.5,455.5 L983.9,455.8 L984.3,455.2 L984.7,455.6 L985.1,455.4 L985.5,454.4 L985.9,454.7 L986.3,454.8 L986.7,453.6 L987.1,455.1 L987.5,455.0 L987.9,453.9 L988.3,455.6 L988.7,455.9 L989.1,453.8 L989.5,454.5 L990.0,454.3 L990.4,454.3 L990.8,454.1 L991.2,455.1 L991.6,454.8 L992.0,455.6 L992.4,454.7 L992.8,454.6 L993.2,455.1 L993.6,454.3 L994.0,452.7 L994.4,455.6 L994.8,454.2 L995.2,454.1 L995.6,454.0 L996.0,455.4 L996.4,454.0 L996.8,454.3 L997.2,454.9 L997.6,455.1 L998.0,454.6 L998.4,454.1 L998.8,454.2 L999.2,453.2 L999.6,455.1 L1000.1,454.4 L1000.5,455.1 L1000.9,454.3 L1001.3,454.7 L1001.7,455.3 L1002.1,455.8 L1002.5,455.4 L1002.9,454.7 L1003.3,453.8 L1003.7,454.3 L1004.1,455.7 L1004.5,455.2 L1004.9,454.8 L1005.3,455.0 L1005.7,454.8 L1006.1,454.3 L1006.5,454.8 L1006.9,455.4 L1007.3,456.3 L1007.7,455.2 L1008.1,456.2 L1008.5,455.1 L1008.9,454.7 L1009.3,455.9 L1009.8,455.1 L1010.2,455.2 L1010.6,453.6 L1011.0,454.7 L1011.4,456.4 L1011.8,454.7 L1012.2,454.7 L1012.6,455.2 L1013.0,455.3 L1013.4,454.6 L1013.8,454.6 L1014.2,454.8 L1014.6,455.8 L1015.0,455.3 L1015.4,456.2 L1015.8,456.2 L1016.2,455.5 L1016.6,455.9 L1017.0,455.4 L1017.4,453.3 L1017.8,454.8 L1018.2,455.8 L1018.6,456.7 L1019.0,455.8 L1019.5,456.2 L1019.9,456.8 L1020.3,454.7 L1020.7,455.5 L1021.1,454.9 L1021.5,452.9 L1021.9,455.0 L1022.3,455.1 L1022.7,455.0 L1023.1,455.4 L1023.5,455.8 L1023.9,455.4 L1024.3,454.4 L1024.7,455.4 L1025.1,456.2 L1025.5,456.1 L1025.9,456.0 L1026.3,455.2 L1026.7,454.9 L1027.1,454.9 L1027.5,454.4 L1027.9,455.4 L1028.3,454.6 L1028.7,455.0 L1029.1,454.7 L1029.6,456.6 L1030.0,454.3 L1030.4,456.4 L1030.8,456.0 L1031.2,454.7 L1031.6,455.5 L1032.0,453.9 L1032.4,455.1 L1032.8,456.0 L1033.2,455.1 L1033.6,455.5 L1034.0,454.1 L1034.4,454.0 L1034.8,454.7 L1035.2,455.5 L1035.6,455.2 L1036.0,454.5 L1036.4,455.8 L1036.8,455.8 L1037.2,454.6 L1037.6,454.7 L1038.0,455.4 L1038.4,455.5 L1038.8,456.7 L1039.3,454.4 L1039.7,455.3 L1040.1,456.3 L1040.5,456.1 L1040.9,455.9 L1041.3,454.0 L1041.7,454.8 L1042.1,456.3 L1042.5,453.9 L1042.9,454.3 L1043.3,456.1 L1043.7,457.3 L1044.1,454.6 L1044.5,455.7 L1044.9,455.4 L1045.3,455.7 L1045.7,454.4 L1046.1,454.2 L1046.5,454.7 L1046.9,455.4 L1047.3,455.1 L1047.7,454.9 L1048.1,456.5 L1048.5,454.4 L1048.9,457.8 L1049.4,460.6 L1049.8,464.0 L1050.2,465.2 L1050.6,465.4 L1051.0,464.2 L1051.4,468.1 L1051.8,469.3 L1052.2,468.2 L1052.6,469.7 L1053.0,467.9 L1053.4,470.7 L1053.8,469.8 L1054.2,469.0 L1054.6,469.3 L1055.0,471.0 L1055.4,469.5 L1055.8,470.1 L1056.2,475.5 L1056.6,472.5 L1057.0,473.3 L1057.4,474.6 L1057.8,475.7 L1058.2,475.0 L1058.6,474.9 L1059.1,475.6 L1059.5,474.1 L1059.9,475.2 L1060.3,478.8 L1060.7,479.6 L1061.1,477.0 L1061.5,480.6 L1061.9,479.4 L1062.3,479.2 L1062.7,478.6 L1063.1,479.8 L1063.5,477.9 L1063.9,482.0 L1064.3,479.6 L1064.7,482.5 L1065.1,480.7 L1065.5,480.9 L1065.9,483.1 L1066.3,486.7 L1066.7,479.2 L1067.1,480.5 L1067.5,481.0 L1067.9,482.8 L1068.3,482.1 L1068.8,480.4 L1069.2,481.4 L1069.6,479.0 L1070.0,481.3 L1070.4,483.3 L1070.8,480.3 L1071.2,483.0 L1071.6,481.2 L1072.0,485.6 L1072.4,482.5 L1072.8,480.6 L1073.2,483.2 L1073.6,481.9 L1074.0,480.6 L1074.4,481.8 L1074.8,478.1 L1075.2,482.6 L1075.6,482.5 L1076.0,482.4 L1076.4,486.4 L1076.8,485.5 L1077.2,481.0 L1077.6,483.0 L1078.0,479.3 L1078.4,482.5 L1078.9,482.7 L1079.3,480.1 L1079.7,481.8 L1080.1,479.0 L1080.5,484.8 L1080.9,481.6 L1081.3,481.1 L1081.7,481.4 L1082.1,480.1 L1082.5,480.4 L1082.9,482.6 L1083.3,484.0 L1083.7,480.6 L1084.1,482.7 L1084.5,480.7 L1084.9,479.8 L1085.3,482.4 L1085.7,484.9 L1086.1,483.5 L1086.5,481.2 L1086.9,483.5 L1087.3,480.4 L1087.7,482.9 L1088.1,482.8 L1088.6,487.5 L1089.0,495.2 L1089.4,500.1 L1089.8,514.0 L1090.2,514.6 L1090.6,516.9 L1091.0,511.5 L1091.4,521.2 L1091.8,518.4 L1092.2,512.7 L1092.6,511.3 L1093.0,518.5 L1093.4,514.3 L1093.8,527.1 L1094.2,516.3 L1094.6,518.9 L1095.0,528.7 L1095.4,534.4 L1095.8,532.2 L1096.2,532.3 L1096.6,535.1 L1097.0,539.6 L1097.4,540.0 L1097.8,543.7 L1098.3,554.0 L1098.7,551.1 L1099.1,553.0 L1099.5,547.8 L1099.9,555.7 L1100.3,550.6 L1100.7,555.9 L1101.1,547.6 L1101.5,559.3 L1101.9,560.4 L1102.3,562.3 L1102.7,562.6 L1103.1,548.7 L1103.5,557.2 L1103.9,554.7 L1104.3,547.8 L1104.7,540.0 L1105.1,543.1 L1105.5,531.3 L1105.9,527.4 L1106.3,528.7 L1106.7,526.3 L1107.1,525.9 L1107.5,520.9 L1107.9,520.2 L1108.4,509.4 L1108.8,503.7 L1109.2,505.9 L1109.6,500.4 L1110.0,501.2 L1110.4,492.4 L1110.8,485.6 L1111.2,483.1 L1111.6,480.8 L1112.0,476.7 L1112.4,475.5 L1112.8,473.6 L1113.2,467.8 L1113.6,470.3 L1114.0,466.4 L1114.4,466.4 L1114.8,467.0 L1115.2,467.6 L1115.6,468.2 L1116.0,470.7 L1116.4,471.5 L1116.8,472.2 L1117.2,474.9 L1117.6,476.4 L1118.1,479.1 L1118.5,479.5 L1118.9,477.8 L1119.3,475.5 L1119.7,476.6 L1120.1,475.2 L1120.5,475.4 L1120.9,475.2 L1121.3,478.8 L1121.7,474.9 L1122.1,475.9 L1122.5,473.3 L1122.9,476.2 L1123.3,476.7 L1123.7,477.5 L1124.1,477.0 L1124.5,480.4 L1124.9,477.8 L1125.3,477.4 L1125.7,475.4 L1126.1,478.5 L1126.5,477.0 L1126.9,473.8 L1127.3,478.3 L1127.7,475.7 L1128.2,478.3 L1128.6,477.5 L1129.0,476.4 L1129.4,475.6 L1129.8,478.2 L1130.2,479.2 L1130.6,474.4 L1131.0,476.9 L1131.4,475.8 L1131.8,475.6 L1132.2,475.9 L1132.6,477.8 L1133.0,477.5 L1133.4,479.9 L1133.8,476.4 L1134.2,477.4 L1134.6,476.3 L1135.0,472.6 L1135.4,474.6 L1135.8,475.5 L1136.2,477.8 L1136.6,473.8 L1137.0,472.2 L1137.4,476.1 L1137.9,473.7 L1138.3,475.0 L1138.7,474.2 L1139.1,474.3 L1139.5,476.2 L1139.9,474.1 L1140.3,475.7 L1140.7,470.5 L1141.1,470.8 L1141.5,472.2 L1141.9,471.6 L1142.3,471.7 L1142.7,471.7 L1143.1,471.8 L1143.5,472.7 L1143.9,472.8 L1144.3,474.9 L1144.7,474.5 L1145.1,474.0 L1145.5,472.8 L1145.9,474.0 L1146.3,470.3 L1146.7,474.0 L1147.1,474.4 L1147.6,473.3 L1148.0,472.4 L1148.4,471.2 L1148.8,472.8 L1149.2,475.7 L1149.6,475.2 L1150.0,473.2 L1150.4,474.7 L1150.8,474.0 L1151.2,475.7 L1151.6,472.8 L1152.0,473.3 L1152.4,474.0 L1152.8,475.9 L1153.2,479.3 L1153.6,479.0 L1154.0,476.1 L1154.4,475.7 L1154.8,482.5 L1155.2,478.1 L1155.6,475.2 L1156.0,475.8 L1156.4,478.7 L1156.8,476.7 L1157.2,478.0 L1157.7,478.7 L1158.1,476.3 L1158.5,476.4 L1158.9,479.8 L1159.3,480.8 L1159.7,481.7 L1160.1,482.1 L1160.5,476.8 L1160.9,476.4 L1161.3,481.7 L1161.7,481.8 L1162.1,487.7 L1162.5,488.3 L1162.9,487.7 L1163.3,491.2 L1163.7,494.1 L1164.1,500.7 L1164.5,504.1 L1164.9,504.8 L1165.3,509.1 L1165.7,511.2 L1166.1,517.1 L1166.5,519.3 L1166.9,521.9 L1167.4,523.8 L1167.8,528.4 L1168.2,531.8 L1168.6,531.4 L1169.0,527.3 L1169.4,532.7 L1169.8,536.7 L1170.2,537.7 L1170.6,533.0 L1171.0,532.7 L1171.4,530.7 L1171.8,537.9 L1172.2,531.6 L1172.6,539.5 L1173.0,539.6 L1173.4,541.6 L1173.8,537.6 L1174.2,535.9 L1174.6,541.0 L1175.0,543.6 L1175.4,548.5 L1175.8,542.0 L1176.2,544.7 L1176.6,544.6 L1177.0,547.0 L1177.5,548.6 L1177.9,547.3 L1178.3,543.4 L1178.7,539.2 L1179.1,541.3 L1179.5,537.9 L1179.9,538.0 L1180.3,535.7 L1180.7,538.9 L1181.1,527.5 L1181.5,526.7 L1181.9,521.9 L1182.3,529.7 L1182.7,525.8 L1183.1,529.4 L1183.5,523.7 L1183.9,524.4 L1184.3,520.2 L1184.7,522.8 L1185.1,518.7 L1185.5,522.6 L1185.9,517.3 L1186.3,520.1 L1186.7,517.7 L1187.2,512.8 L1187.6,508.9 L1188.0,512.1 L1188.4,509.3 L1188.8,500.9 L1189.2,498.7 L1189.6,501.4 L1190.0,497.8 L1190.4,493.5 L1190.8,489.1 L1191.2,487.8 L1191.6,484.3 L1192.0,482.4 L1192.4,478.2 L1192.8,484.7 L1193.2,480.2 L1193.6,477.4 L1194.0,482.0 L1194.4,482.3 L1194.8,479.1 L1195.2,477.3 L1195.6,477.0 L1196.0,482.9 L1196.4,481.8 L1196.9,479.6 L1197.3,480.4 L1197.7,478.7 L1198.1,479.1 L1198.5,475.9 L1198.9,479.4 L1199.3,478.9 L1199.7,479.1 L1200.1,477.1 L1200.5,481.4 L1200.9,478.4 L1201.3,480.7 L1201.7,481.9 L1202.1,476.8 L1202.5,478.1 L1202.9,476.4 L1203.3,478.5 L1203.7,477.6 L1204.1,478.6 L1204.5,477.6 L1204.9,479.5 L1205.3,475.3 L1205.7,480.2 L1206.1,475.1 L1206.5,478.7 L1207.0,476.6 L1207.4,477.9 L1207.8,477.2 L1208.2,475.2 L1208.6,477.6 L1209.0,479.6 L1209.4,477.3 L1209.8,476.4 L1210.2,482.2 L1210.6,475.6 L1211.0,475.4 L1211.4,480.6 L1211.8,477.5 L1212.2,475.6 L1212.6,479.2 L1213.0,477.8 L1213.4,477.5 L1213.8,475.8 L1214.2,474.7 L1214.6,476.7 L1215.0,476.5 L1215.4,474.8 L1215.8,475.4 L1216.2,476.5 L1216.7,473.7 L1217.1,478.3 L1217.5,475.2 L1217.9,475.9 L1218.3,475.7 L1218.7,474.2 L1219.1,474.1 L1219.5,469.7 L1219.9,472.5 L1220.3,472.7 L1220.7,470.2 L1221.1,471.0 L1221.5,475.4 L1221.9,471.8 L1222.3,470.5 L1222.7,472.4 L1223.1,470.6 L1223.5,471.5 L1223.9,469.9 L1224.3,472.6 L1224.7,472.8 L1225.1,470.3 L1225.5,468.9 L1225.9,464.8 L1226.3,459.5 L1226.8,454.9 L1227.2,453.8 L1227.6,454.4 L1228.0,453.2 L1228.4,454.5 L1228.8,455.8 L1229.2,455.0 L1229.6,455.1 L1230.0,455.4 L1230.4,455.0 L1230.8,455.0 L1231.2,454.7 L1231.6,454.9 L1232.0,454.2 L1232.4,454.2 L1232.8,454.4 L1233.2,454.4 L1233.6,455.8 L1234.0,455.7 L1234.4,455.2 L1234.8,454.4 L1235.2,455.6 L1235.6,454.9 L1236.0,454.4 L1236.5,453.2 L1236.9,454.4 L1237.3,455.0 L1237.7,453.9 L1238.1,454.5 L1238.5,454.9 L1238.9,453.9 L1239.3,455.3 L1239.7,454.5 L1240.1,454.6 L1240.5,454.1 L1240.9,455.5 L1241.3,455.6 L1241.7,455.0 L1242.1,454.9 L1242.5,454.7 L1242.9,455.0 L1243.3,454.5 L1243.7,454.3 L1244.1,454.6 L1244.5,455.5 L1244.9,454.0 L1245.3,455.9 L1245.7,455.0 L1246.2,454.2 L1246.6,455.3 L1247.0,453.9 L1247.4,453.5 L1247.8,453.7 L1248.2,454.6 L1248.6,454.2 L1249.0,455.3 L1249.4,454.6 L1249.8,454.6 L1250.2,454.9 L1250.6,454.9 L1251.0,455.1 L1251.4,456.4 L1251.8,454.8 L1252.2,454.8 L1252.6,453.6 L1253.0,454.6 L1253.4,455.1 L1253.8,454.5 L1254.2,454.7 L1254.6,455.2 L1255.0,455.5 L1255.4,456.3 L1255.8,455.2 L1256.3,454.1 L1256.7,456.7 L1257.1,456.0 L1257.5,454.8 L1257.9,455.2 L1258.3,455.1 L1258.7,456.8 L1259.1,455.8 L1259.5,455.1 L1259.9,455.0 L1260.3,455.3 L1260.7,456.1 L1261.1,455.1 L1261.5,456.4 L1261.9,456.3 L1262.3,456.4 L1262.7,454.5 L1263.1,455.9 L1263.5,455.6 L1263.9,457.3 L1264.3,454.9 L1264.7,455.3 L1265.1,457.0 L1265.5,457.0 L1266.0,454.5 L1266.4,456.5 L1266.8,454.4 L1267.2,456.2 L1267.6,457.7 L1268.0,455.0 L1268.4,455.5 L1268.8,455.4 L1269.2,456.3 L1269.6,456.1 L1270.0,455.2 L1270.4,456.6 L1270.8,457.5 L1271.2,455.3 L1271.6,456.5 L1272.0,455.1 L1272.4,456.5 L1272.8,456.4 L1273.2,456.3 L1273.6,458.0 L1274.0,455.3 L1274.4,456.7 L1274.8,456.4 L1275.2,455.1 L1275.7,456.2" fill="none" stroke="#d52a2e" stroke-width="2.7" stroke-linejoin="round"/>
<rect x="669.5" y="431" width="605.5" height="205" fill="none" stroke="#262626" stroke-width="3"/>
<g stroke="#262626" stroke-width="2">
  <line x1="669" y1="453.5" x2="678.5" y2="453.5"/>
  <line x1="669" y1="476.4" x2="675.0" y2="476.4"/>
  <line x1="669" y1="499.3" x2="678.5" y2="499.3"/>
  <line x1="669" y1="522.2" x2="675.0" y2="522.2"/>
  <line x1="669" y1="545.1" x2="678.5" y2="545.1"/>
  <line x1="669" y1="568.0" x2="675.0" y2="568.0"/>
  <line x1="669" y1="590.9" x2="678.5" y2="590.9"/>
  <line x1="669" y1="613.8" x2="675.0" y2="613.8"/>
  <line x1="736.9" y1="636" x2="736.9" y2="630.0"/>
  <line x1="804.2" y1="636" x2="804.2" y2="626.5"/>
  <line x1="871.5" y1="636" x2="871.5" y2="630.0"/>
  <line x1="938.9" y1="636" x2="938.9" y2="626.5"/>
  <line x1="1006.2" y1="636" x2="1006.2" y2="630.0"/>
  <line x1="1073.6" y1="636" x2="1073.6" y2="626.5"/>
  <line x1="1141.0" y1="636" x2="1141.0" y2="630.0"/>
  <line x1="1208.3" y1="636" x2="1208.3" y2="626.5"/>
</g>

<g class="ax" font-size="21" text-anchor="end">
  <text x="657.5" y="460">0</text>
  <text x="657.5" y="503.5">-100</text>
  <text x="657.5" y="549.5">-200</text>
  <text x="657.5" y="596">-300</text>
  <text x="657.5" y="640">-400</text>
</g>
<g class="ax" font-size="21" text-anchor="middle">
  <text x="669.5" y="662">0</text>
  <text x="804" y="662">10</text>
  <text x="938" y="662">20</text>
  <text x="1073" y="662">30</text>
  <text x="1208" y="662">40</text>
</g>
<text class="ax" font-size="22" x="951.5" y="686">X / mm</text>
<text class="ax" font-size="23.5" transform="translate(596.5 605) rotate(-90)" x="0" y="0">Depth / um</text>
<text class="lab" x="589.6" y="702.5">(b)</text>

</svg>
</body></html>
